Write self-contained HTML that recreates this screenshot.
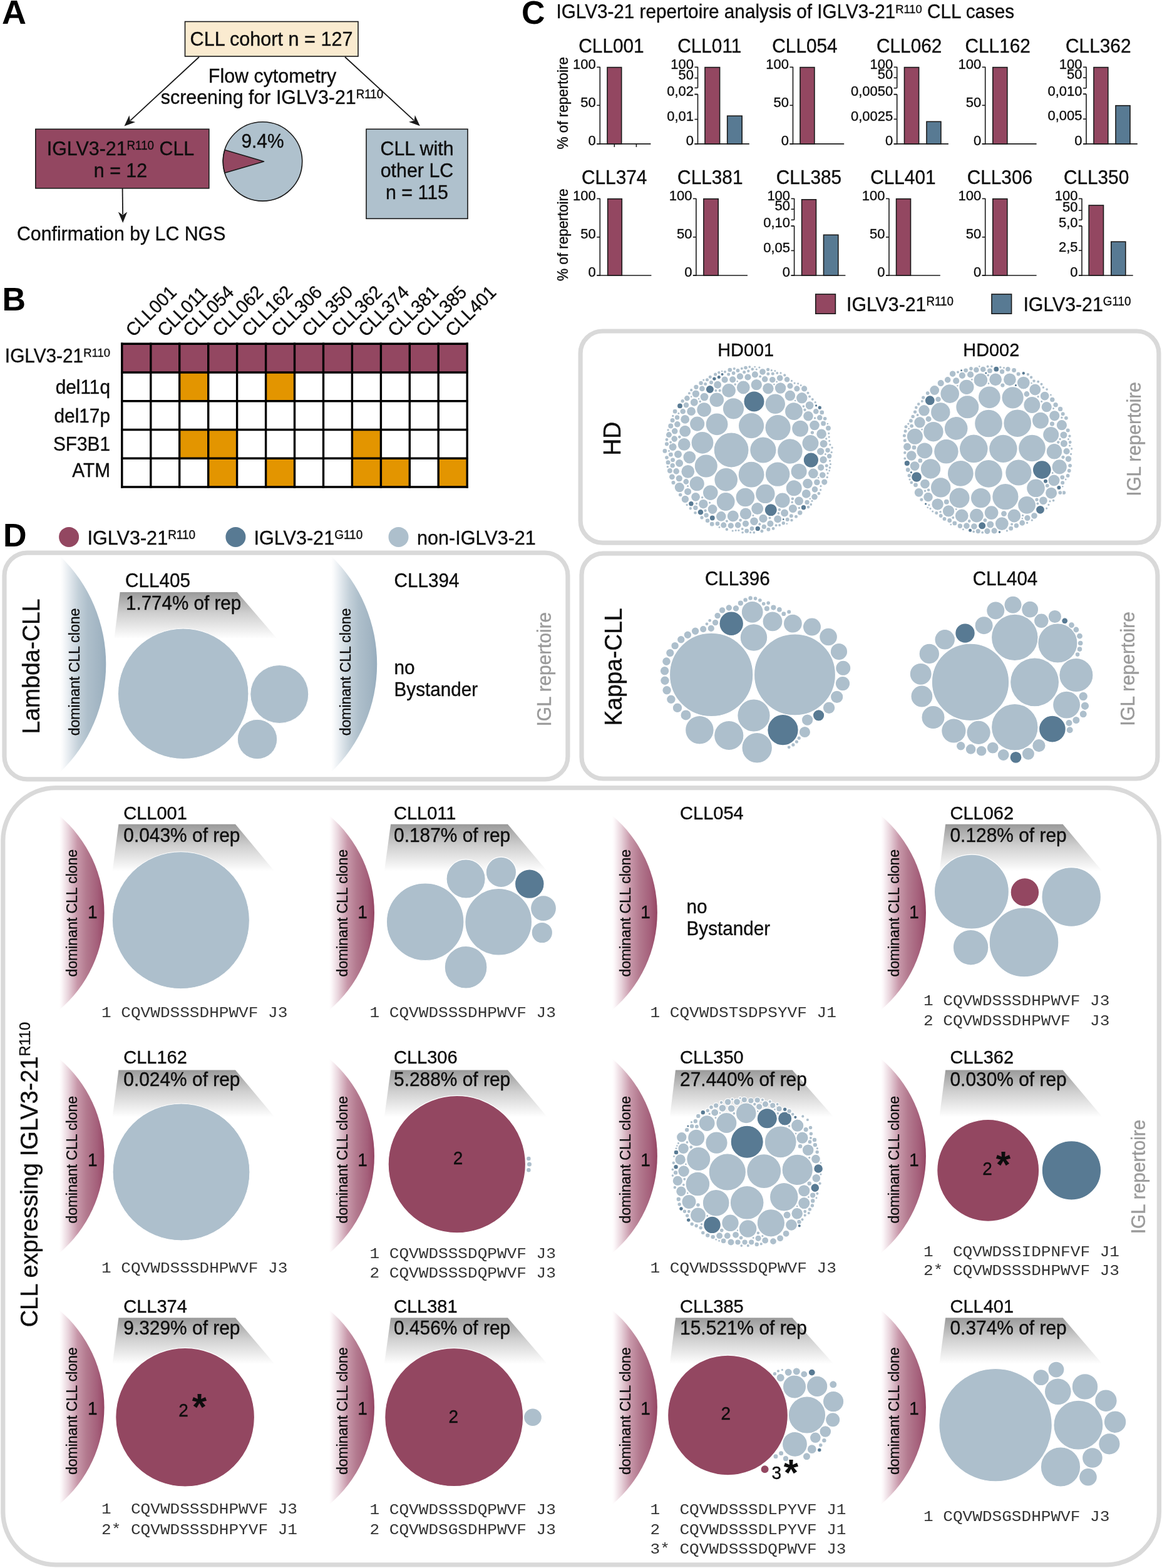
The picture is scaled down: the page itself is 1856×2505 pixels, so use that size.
<!DOCTYPE html><html><head><meta charset="utf-8"><title>IGLV3-21 figure</title>
<style>html,body{margin:0;padding:0;background:#fff}svg{display:block}text{font-family:"Liberation Sans",Arial,Helvetica,sans-serif;fill:#0d0d0d;stroke:#0d0d0d;stroke-width:0.35px}.mono{font-family:"Liberation Mono","Courier New",monospace}</style></head><body>
<svg width="1856" height="2505" viewBox="0 0 1856 2505">
<defs>
<linearGradient id="gp" x1="0" y1="0" x2="1" y2="0"><stop offset="0" stop-color="#ffffff"/><stop offset="0.05" stop-color="#fcf7f9"/><stop offset="0.2" stop-color="#e8d3db"/><stop offset="0.4" stop-color="#c898aa"/><stop offset="0.6" stop-color="#b37a8f"/><stop offset="0.85" stop-color="#a45f7a"/><stop offset="0.96" stop-color="#9a4d6a"/><stop offset="1" stop-color="#8e3e5d"/></linearGradient>
<linearGradient id="gb" x1="0" y1="0" x2="1" y2="0"><stop offset="0" stop-color="#ffffff"/><stop offset="0.05" stop-color="#fafbfc"/><stop offset="0.2" stop-color="#e3e9ee"/><stop offset="0.4" stop-color="#c3d0d9"/><stop offset="0.6" stop-color="#aebfcb"/><stop offset="0.85" stop-color="#a2b5c3"/><stop offset="1" stop-color="#97adbe"/></linearGradient>
<linearGradient id="gt" x1="0" y1="0" x2="0" y2="1"><stop offset="0" stop-color="#9a9a9a"/><stop offset="0.45" stop-color="#cfcfcf"/><stop offset="1" stop-color="#ffffff"/></linearGradient>
</defs>
<rect x="0" y="0" width="1856" height="2505" fill="#ffffff"/>
<text x="3" y="37.8" font-size="54" font-weight="bold" style="fill:#000;stroke:#000;stroke:none">A</text>
<rect x="295.5" y="34.5" width="276.5" height="55.5" fill="#faebd0" stroke="#1a1a1a" stroke-width="1.6"/>
<text x="433.5" y="73.2" font-size="30.6" text-anchor="middle" transform="translate(433.5 73.2) scale(1 1.04) translate(-433.5 -73.2)">CLL cohort n = 127</text>
<line x1="318" y1="91" x2="208.4" y2="192.3" stroke="#1a1a1a" stroke-width="1.8"/>
<polygon points="198.5,201.5 206.5,184.3 207.8,192.9 216.2,194.9" fill="#1a1a1a"/>
<line x1="551" y1="91" x2="660.9" y2="192.2" stroke="#1a1a1a" stroke-width="1.8"/>
<polygon points="670.8,201.3 653,194.7 661.5,192.8 662.8,184.1" fill="#1a1a1a"/>
<text x="435" y="131.7" font-size="30.4" text-anchor="middle" transform="translate(435 131.7) scale(1 1.04) translate(-435 -131.7)">Flow cytometry</text>
<text x="256.8" y="166.5" font-size="30.4" transform="translate(256.8 166.5) scale(1 1.04) translate(-256.8 -166.5)">screening for IGLV3-21<tspan font-size="18.8" dy="-8.8">R110</tspan></text>
<rect x="56.8" y="206.3" width="277" height="94.5" fill="#934761" stroke="#1a1a1a" stroke-width="1.6"/>
<text x="192.5" y="248" font-size="30.4" text-anchor="middle" transform="translate(192.5 248) scale(1 1.04) translate(-192.5 -248)">IGLV3-21<tspan font-size="18.8" dy="-8.8">R110</tspan><tspan dy="8.8"> CLL</tspan></text>
<text x="192.5" y="283" font-size="30.4" text-anchor="middle" transform="translate(192.5 283) scale(1 1.04) translate(-192.5 -283)">n = 12</text>
<line x1="195.6" y1="301" x2="196.1" y2="342.5" stroke="#1a1a1a" stroke-width="1.8"/>
<polygon points="196.2,356 188.8,338.6 196.1,343.4 203.2,338.4" fill="#1a1a1a"/>
<text x="27" y="384" font-size="30.3" transform="translate(27 384) scale(1 1.04) translate(-27 -384)">Confirmation by LC NGS</text>
<circle cx="419.5" cy="257.9" r="63.2" fill="#afc1cd" stroke="#1a1a1a" stroke-width="1.6"/>
<path d="M421.5,257.9 L359,239.5 A63.2,63.2 0 0 0 359,276.3 Z" fill="#934761" stroke="#1a1a1a" stroke-width="1.6" stroke-linejoin="round"/>
<text x="419.5" y="236" font-size="29.9" text-anchor="middle" transform="translate(419.5 236) scale(1 1.04) translate(-419.5 -236)">9.4%</text>
<rect x="585" y="206.3" width="162" height="143" fill="#afc1cd" stroke="#1a1a1a" stroke-width="1.6"/>
<text x="666" y="248" font-size="30.4" text-anchor="middle" transform="translate(666 248) scale(1 1.04) translate(-666 -248)">CLL with</text>
<text x="666" y="283" font-size="30.4" text-anchor="middle" transform="translate(666 283) scale(1 1.04) translate(-666 -283)">other LC</text>
<text x="666" y="318.4" font-size="30.4" text-anchor="middle" transform="translate(666 318.4) scale(1 1.04) translate(-666 -318.4)">n = 115</text>
<text x="3.5" y="496" font-size="52" font-weight="bold" style="fill:#000;stroke:#000;stroke:none">B</text>
<rect x="194.8" y="549.2" width="46" height="45.8" fill="#934761"/>
<rect x="240.8" y="549.2" width="46" height="45.8" fill="#934761"/>
<rect x="286.7" y="549.2" width="46" height="45.8" fill="#934761"/>
<rect x="332.7" y="549.2" width="46" height="45.8" fill="#934761"/>
<rect x="378.6" y="549.2" width="46" height="45.8" fill="#934761"/>
<rect x="424.6" y="549.2" width="46" height="45.8" fill="#934761"/>
<rect x="470.5" y="549.2" width="46" height="45.8" fill="#934761"/>
<rect x="516.5" y="549.2" width="46" height="45.8" fill="#934761"/>
<rect x="562.4" y="549.2" width="46" height="45.8" fill="#934761"/>
<rect x="608.4" y="549.2" width="46" height="45.8" fill="#934761"/>
<rect x="654.3" y="549.2" width="46" height="45.8" fill="#934761"/>
<rect x="700.2" y="549.2" width="46" height="45.8" fill="#934761"/>
<rect x="194.8" y="595" width="46" height="45.8" fill="#ffffff"/>
<rect x="240.8" y="595" width="46" height="45.8" fill="#ffffff"/>
<rect x="286.7" y="595" width="46" height="45.8" fill="#e39500"/>
<rect x="332.7" y="595" width="46" height="45.8" fill="#ffffff"/>
<rect x="378.6" y="595" width="46" height="45.8" fill="#ffffff"/>
<rect x="424.6" y="595" width="46" height="45.8" fill="#e39500"/>
<rect x="470.5" y="595" width="46" height="45.8" fill="#ffffff"/>
<rect x="516.5" y="595" width="46" height="45.8" fill="#ffffff"/>
<rect x="562.4" y="595" width="46" height="45.8" fill="#ffffff"/>
<rect x="608.4" y="595" width="46" height="45.8" fill="#ffffff"/>
<rect x="654.3" y="595" width="46" height="45.8" fill="#ffffff"/>
<rect x="700.2" y="595" width="46" height="45.8" fill="#ffffff"/>
<rect x="194.8" y="640.7" width="46" height="45.8" fill="#ffffff"/>
<rect x="240.8" y="640.7" width="46" height="45.8" fill="#ffffff"/>
<rect x="286.7" y="640.7" width="46" height="45.8" fill="#ffffff"/>
<rect x="332.7" y="640.7" width="46" height="45.8" fill="#ffffff"/>
<rect x="378.6" y="640.7" width="46" height="45.8" fill="#ffffff"/>
<rect x="424.6" y="640.7" width="46" height="45.8" fill="#ffffff"/>
<rect x="470.5" y="640.7" width="46" height="45.8" fill="#ffffff"/>
<rect x="516.5" y="640.7" width="46" height="45.8" fill="#ffffff"/>
<rect x="562.4" y="640.7" width="46" height="45.8" fill="#ffffff"/>
<rect x="608.4" y="640.7" width="46" height="45.8" fill="#ffffff"/>
<rect x="654.3" y="640.7" width="46" height="45.8" fill="#ffffff"/>
<rect x="700.2" y="640.7" width="46" height="45.8" fill="#ffffff"/>
<rect x="194.8" y="686.5" width="46" height="45.8" fill="#ffffff"/>
<rect x="240.8" y="686.5" width="46" height="45.8" fill="#ffffff"/>
<rect x="286.7" y="686.5" width="46" height="45.8" fill="#e39500"/>
<rect x="332.7" y="686.5" width="46" height="45.8" fill="#e39500"/>
<rect x="378.6" y="686.5" width="46" height="45.8" fill="#ffffff"/>
<rect x="424.6" y="686.5" width="46" height="45.8" fill="#ffffff"/>
<rect x="470.5" y="686.5" width="46" height="45.8" fill="#ffffff"/>
<rect x="516.5" y="686.5" width="46" height="45.8" fill="#ffffff"/>
<rect x="562.4" y="686.5" width="46" height="45.8" fill="#e39500"/>
<rect x="608.4" y="686.5" width="46" height="45.8" fill="#ffffff"/>
<rect x="654.3" y="686.5" width="46" height="45.8" fill="#ffffff"/>
<rect x="700.2" y="686.5" width="46" height="45.8" fill="#ffffff"/>
<rect x="194.8" y="732.2" width="46" height="45.8" fill="#ffffff"/>
<rect x="240.8" y="732.2" width="46" height="45.8" fill="#ffffff"/>
<rect x="286.7" y="732.2" width="46" height="45.8" fill="#ffffff"/>
<rect x="332.7" y="732.2" width="46" height="45.8" fill="#e39500"/>
<rect x="378.6" y="732.2" width="46" height="45.8" fill="#ffffff"/>
<rect x="424.6" y="732.2" width="46" height="45.8" fill="#e39500"/>
<rect x="470.5" y="732.2" width="46" height="45.8" fill="#ffffff"/>
<rect x="516.5" y="732.2" width="46" height="45.8" fill="#ffffff"/>
<rect x="562.4" y="732.2" width="46" height="45.8" fill="#e39500"/>
<rect x="608.4" y="732.2" width="46" height="45.8" fill="#e39500"/>
<rect x="654.3" y="732.2" width="46" height="45.8" fill="#ffffff"/>
<rect x="700.2" y="732.2" width="46" height="45.8" fill="#e39500"/>
<line x1="194.8" y1="547.5" x2="194.8" y2="779.7" stroke="#000" stroke-width="3.4"/>
<line x1="240.8" y1="547.5" x2="240.8" y2="779.7" stroke="#000" stroke-width="3.4"/>
<line x1="286.7" y1="547.5" x2="286.7" y2="779.7" stroke="#000" stroke-width="3.4"/>
<line x1="332.7" y1="547.5" x2="332.7" y2="779.7" stroke="#000" stroke-width="3.4"/>
<line x1="378.6" y1="547.5" x2="378.6" y2="779.7" stroke="#000" stroke-width="3.4"/>
<line x1="424.6" y1="547.5" x2="424.6" y2="779.7" stroke="#000" stroke-width="3.4"/>
<line x1="470.5" y1="547.5" x2="470.5" y2="779.7" stroke="#000" stroke-width="3.4"/>
<line x1="516.5" y1="547.5" x2="516.5" y2="779.7" stroke="#000" stroke-width="3.4"/>
<line x1="562.4" y1="547.5" x2="562.4" y2="779.7" stroke="#000" stroke-width="3.4"/>
<line x1="608.4" y1="547.5" x2="608.4" y2="779.7" stroke="#000" stroke-width="3.4"/>
<line x1="654.3" y1="547.5" x2="654.3" y2="779.7" stroke="#000" stroke-width="3.4"/>
<line x1="700.2" y1="547.5" x2="700.2" y2="779.7" stroke="#000" stroke-width="3.4"/>
<line x1="746.2" y1="547.5" x2="746.2" y2="779.7" stroke="#000" stroke-width="3.4"/>
<line x1="193.1" y1="549.2" x2="747.9" y2="549.2" stroke="#000" stroke-width="3.4"/>
<line x1="193.1" y1="595" x2="747.9" y2="595" stroke="#000" stroke-width="3.4"/>
<line x1="193.1" y1="640.7" x2="747.9" y2="640.7" stroke="#000" stroke-width="3.4"/>
<line x1="193.1" y1="686.5" x2="747.9" y2="686.5" stroke="#000" stroke-width="3.4"/>
<line x1="193.1" y1="732.2" x2="747.9" y2="732.2" stroke="#000" stroke-width="3.4"/>
<line x1="193.1" y1="778" x2="747.9" y2="778" stroke="#000" stroke-width="3.4"/>
<text x="176" y="579.2" font-size="29.8" text-anchor="end" transform="translate(176 579.2) scale(1 1.04) translate(-176 -579.2)">IGLV3-21<tspan font-size="18.5" dy="-8.6">R110</tspan></text>
<text x="176" y="629" font-size="29.8" text-anchor="end" transform="translate(176 629) scale(1 1.04) translate(-176 -629)">del11q</text>
<text x="176" y="675" font-size="29.8" text-anchor="end" transform="translate(176 675) scale(1 1.04) translate(-176 -675)">del17p</text>
<text x="176" y="719.7" font-size="29.8" text-anchor="end" transform="translate(176 719.7) scale(1 1.04) translate(-176 -719.7)">SF3B1</text>
<text x="176" y="762" font-size="29.8" text-anchor="end" transform="translate(176 762) scale(1 1.04) translate(-176 -762)">ATM</text>
<text x="212.9" y="539.6" font-size="28.6" transform="rotate(-45 212.9 539.6) translate(212.9 539.6) scale(1 1.04) translate(-212.9 -539.6)">CLL001</text>
<text x="263.5" y="539.6" font-size="28.6" transform="rotate(-45 263.5 539.6) translate(263.5 539.6) scale(1 1.04) translate(-263.5 -539.6)">CLL011</text>
<text x="304.5" y="539.6" font-size="28.6" transform="rotate(-45 304.5 539.6) translate(304.5 539.6) scale(1 1.04) translate(-304.5 -539.6)">CLL054</text>
<text x="351.5" y="539.6" font-size="28.6" transform="rotate(-45 351.5 539.6) translate(351.5 539.6) scale(1 1.04) translate(-351.5 -539.6)">CLL062</text>
<text x="398.5" y="539.6" font-size="28.6" transform="rotate(-45 398.5 539.6) translate(398.5 539.6) scale(1 1.04) translate(-398.5 -539.6)">CLL162</text>
<text x="445.5" y="539.6" font-size="28.6" transform="rotate(-45 445.5 539.6) translate(445.5 539.6) scale(1 1.04) translate(-445.5 -539.6)">CLL306</text>
<text x="494.5" y="539.6" font-size="28.6" transform="rotate(-45 494.5 539.6) translate(494.5 539.6) scale(1 1.04) translate(-494.5 -539.6)">CLL350</text>
<text x="541.5" y="539.6" font-size="28.6" transform="rotate(-45 541.5 539.6) translate(541.5 539.6) scale(1 1.04) translate(-541.5 -539.6)">CLL362</text>
<text x="584.5" y="539.6" font-size="28.6" transform="rotate(-45 584.5 539.6) translate(584.5 539.6) scale(1 1.04) translate(-584.5 -539.6)">CLL374</text>
<text x="631.5" y="539.6" font-size="28.6" transform="rotate(-45 631.5 539.6) translate(631.5 539.6) scale(1 1.04) translate(-631.5 -539.6)">CLL381</text>
<text x="676.5" y="539.6" font-size="28.6" transform="rotate(-45 676.5 539.6) translate(676.5 539.6) scale(1 1.04) translate(-676.5 -539.6)">CLL385</text>
<text x="723.5" y="539.6" font-size="28.6" transform="rotate(-45 723.5 539.6) translate(723.5 539.6) scale(1 1.04) translate(-723.5 -539.6)">CLL401</text>
<text x="833" y="37.8" font-size="52" font-weight="bold" style="fill:#000;stroke:#000;stroke:none">C</text>
<text x="888.5" y="29.5" font-size="29.7" transform="translate(888.5 29.5) scale(1 1.04) translate(-888.5 -29.5)">IGLV3-21 repertoire analysis of IGLV3-21<tspan font-size="18.4" dy="-8.6">R110</tspan><tspan dy="8.6"> CLL cases</tspan></text>
<text x="976.5" y="83.9" font-size="29.8" text-anchor="middle" transform="translate(976.5 83.9) scale(1 1.04) translate(-976.5 -83.9)">CLL001</text>
<line x1="958.3" y1="106.8" x2="958.3" y2="230.7" stroke="#1a1a1a" stroke-width="1.6"/>
<line x1="953.3" y1="229.9" x2="1039.4" y2="229.9" stroke="#1a1a1a" stroke-width="1.6"/>
<line x1="953.3" y1="107.3" x2="958.3" y2="107.3" stroke="#1a1a1a" stroke-width="1.6"/>
<text x="951.8" y="109.6" font-size="22" text-anchor="end" transform="translate(951.8 109.6) scale(1 1.04) translate(-951.8 -109.6)">100</text>
<line x1="953.3" y1="168.3" x2="958.3" y2="168.3" stroke="#1a1a1a" stroke-width="1.6"/>
<text x="951.8" y="170.6" font-size="22" text-anchor="end" transform="translate(951.8 170.6) scale(1 1.04) translate(-951.8 -170.6)">50</text>
<line x1="953.3" y1="229.9" x2="958.3" y2="229.9" stroke="#1a1a1a" stroke-width="1.6"/>
<text x="951.8" y="232.2" font-size="22" text-anchor="end" transform="translate(951.8 232.2) scale(1 1.04) translate(-951.8 -232.2)">0</text>
<rect x="970" y="107.6" width="22.7" height="122.3" fill="#934761" stroke="#1a1a1a" stroke-width="1.6"/>
<line x1="981.3" y1="229.9" x2="981.3" y2="234.9" stroke="#1a1a1a" stroke-width="1.6"/>
<line x1="1016.4" y1="229.9" x2="1016.4" y2="234.9" stroke="#1a1a1a" stroke-width="1.6"/>
<text x="1133.3" y="83.9" font-size="29.8" text-anchor="middle" transform="translate(1133.3 83.9) scale(1 1.04) translate(-1133.3 -83.9)">CLL011</text>
<line x1="1114.5" y1="106.8" x2="1114.5" y2="140.4" stroke="#1a1a1a" stroke-width="1.6"/>
<line x1="1114.5" y1="150.6" x2="1114.5" y2="230.7" stroke="#1a1a1a" stroke-width="1.6"/>
<line x1="1109.5" y1="140.4" x2="1114.5" y2="140.4" stroke="#1a1a1a" stroke-width="1.6"/>
<line x1="1109.5" y1="150.6" x2="1114.5" y2="150.6" stroke="#1a1a1a" stroke-width="1.6"/>
<line x1="1109.5" y1="229.9" x2="1196.8" y2="229.9" stroke="#1a1a1a" stroke-width="1.6"/>
<line x1="1109.5" y1="107.3" x2="1114.5" y2="107.3" stroke="#1a1a1a" stroke-width="1.6"/>
<text x="1108" y="109.6" font-size="22" text-anchor="end" transform="translate(1108 109.6) scale(1 1.04) translate(-1108 -109.6)">100</text>
<line x1="1109.5" y1="124.7" x2="1114.5" y2="124.7" stroke="#1a1a1a" stroke-width="1.6"/>
<text x="1108" y="127" font-size="22" text-anchor="end" transform="translate(1108 127) scale(1 1.04) translate(-1108 -127)">50</text>
<line x1="1109.5" y1="150.6" x2="1114.5" y2="150.6" stroke="#1a1a1a" stroke-width="1.6"/>
<text x="1108" y="152.9" font-size="22" text-anchor="end" transform="translate(1108 152.9) scale(1 1.04) translate(-1108 -152.9)">0,02</text>
<line x1="1109.5" y1="190.6" x2="1114.5" y2="190.6" stroke="#1a1a1a" stroke-width="1.6"/>
<text x="1108" y="192.9" font-size="22" text-anchor="end" transform="translate(1108 192.9) scale(1 1.04) translate(-1108 -192.9)">0,01</text>
<line x1="1109.5" y1="229.9" x2="1114.5" y2="229.9" stroke="#1a1a1a" stroke-width="1.6"/>
<text x="1108" y="232.2" font-size="22" text-anchor="end" transform="translate(1108 232.2) scale(1 1.04) translate(-1108 -232.2)">0</text>
<rect x="1126" y="107.6" width="23.6" height="122.3" fill="#934761" stroke="#1a1a1a" stroke-width="1.6"/>
<rect x="1161.7" y="185.2" width="23.5" height="44.7" fill="#587a93" stroke="#1a1a1a" stroke-width="1.6"/>
<text x="1285.5" y="83.9" font-size="29.8" text-anchor="middle" transform="translate(1285.5 83.9) scale(1 1.04) translate(-1285.5 -83.9)">CLL054</text>
<line x1="1266.5" y1="106.8" x2="1266.5" y2="230.7" stroke="#1a1a1a" stroke-width="1.6"/>
<line x1="1261.5" y1="229.9" x2="1348.2" y2="229.9" stroke="#1a1a1a" stroke-width="1.6"/>
<line x1="1261.5" y1="107.3" x2="1266.5" y2="107.3" stroke="#1a1a1a" stroke-width="1.6"/>
<text x="1260" y="109.6" font-size="22" text-anchor="end" transform="translate(1260 109.6) scale(1 1.04) translate(-1260 -109.6)">100</text>
<line x1="1261.5" y1="168.3" x2="1266.5" y2="168.3" stroke="#1a1a1a" stroke-width="1.6"/>
<text x="1260" y="170.6" font-size="22" text-anchor="end" transform="translate(1260 170.6) scale(1 1.04) translate(-1260 -170.6)">50</text>
<line x1="1261.5" y1="229.9" x2="1266.5" y2="229.9" stroke="#1a1a1a" stroke-width="1.6"/>
<text x="1260" y="232.2" font-size="22" text-anchor="end" transform="translate(1260 232.2) scale(1 1.04) translate(-1260 -232.2)">0</text>
<rect x="1278" y="107.6" width="22.9" height="122.3" fill="#934761" stroke="#1a1a1a" stroke-width="1.6"/>
<text x="1452.2" y="83.9" font-size="29.8" text-anchor="middle" transform="translate(1452.2 83.9) scale(1 1.04) translate(-1452.2 -83.9)">CLL062</text>
<line x1="1432.7" y1="106.8" x2="1432.7" y2="140.7" stroke="#1a1a1a" stroke-width="1.6"/>
<line x1="1432.7" y1="150.7" x2="1432.7" y2="230.7" stroke="#1a1a1a" stroke-width="1.6"/>
<line x1="1427.7" y1="140.7" x2="1432.7" y2="140.7" stroke="#1a1a1a" stroke-width="1.6"/>
<line x1="1427.7" y1="150.7" x2="1432.7" y2="150.7" stroke="#1a1a1a" stroke-width="1.6"/>
<line x1="1427.7" y1="229.9" x2="1514.9" y2="229.9" stroke="#1a1a1a" stroke-width="1.6"/>
<line x1="1427.7" y1="107.3" x2="1432.7" y2="107.3" stroke="#1a1a1a" stroke-width="1.6"/>
<text x="1426.2" y="109.6" font-size="22" text-anchor="end" transform="translate(1426.2 109.6) scale(1 1.04) translate(-1426.2 -109.6)">100</text>
<line x1="1427.7" y1="124.2" x2="1432.7" y2="124.2" stroke="#1a1a1a" stroke-width="1.6"/>
<text x="1426.2" y="126.5" font-size="22" text-anchor="end" transform="translate(1426.2 126.5) scale(1 1.04) translate(-1426.2 -126.5)">50</text>
<line x1="1427.7" y1="150.7" x2="1432.7" y2="150.7" stroke="#1a1a1a" stroke-width="1.6"/>
<text x="1426.2" y="153" font-size="22" text-anchor="end" transform="translate(1426.2 153) scale(1 1.04) translate(-1426.2 -153)">0,0050</text>
<line x1="1427.7" y1="190.4" x2="1432.7" y2="190.4" stroke="#1a1a1a" stroke-width="1.6"/>
<text x="1426.2" y="192.7" font-size="22" text-anchor="end" transform="translate(1426.2 192.7) scale(1 1.04) translate(-1426.2 -192.7)">0,0025</text>
<line x1="1427.7" y1="229.9" x2="1432.7" y2="229.9" stroke="#1a1a1a" stroke-width="1.6"/>
<text x="1426.2" y="232.2" font-size="22" text-anchor="end" transform="translate(1426.2 232.2) scale(1 1.04) translate(-1426.2 -232.2)">0</text>
<rect x="1444.5" y="107.6" width="23.1" height="122.3" fill="#934761" stroke="#1a1a1a" stroke-width="1.6"/>
<rect x="1480" y="194.3" width="22.9" height="35.6" fill="#587a93" stroke="#1a1a1a" stroke-width="1.6"/>
<text x="1593.7" y="83.9" font-size="29.8" text-anchor="middle" transform="translate(1593.7 83.9) scale(1 1.04) translate(-1593.7 -83.9)">CLL162</text>
<line x1="1573.7" y1="106.8" x2="1573.7" y2="230.7" stroke="#1a1a1a" stroke-width="1.6"/>
<line x1="1568.7" y1="229.9" x2="1655.6" y2="229.9" stroke="#1a1a1a" stroke-width="1.6"/>
<line x1="1568.7" y1="107.3" x2="1573.7" y2="107.3" stroke="#1a1a1a" stroke-width="1.6"/>
<text x="1567.2" y="109.6" font-size="22" text-anchor="end" transform="translate(1567.2 109.6) scale(1 1.04) translate(-1567.2 -109.6)">100</text>
<line x1="1568.7" y1="168.3" x2="1573.7" y2="168.3" stroke="#1a1a1a" stroke-width="1.6"/>
<text x="1567.2" y="170.6" font-size="22" text-anchor="end" transform="translate(1567.2 170.6) scale(1 1.04) translate(-1567.2 -170.6)">50</text>
<line x1="1568.7" y1="229.9" x2="1573.7" y2="229.9" stroke="#1a1a1a" stroke-width="1.6"/>
<text x="1567.2" y="232.2" font-size="22" text-anchor="end" transform="translate(1567.2 232.2) scale(1 1.04) translate(-1567.2 -232.2)">0</text>
<rect x="1585.8" y="107.6" width="23" height="122.3" fill="#934761" stroke="#1a1a1a" stroke-width="1.6"/>
<text x="1754.3" y="83.9" font-size="29.8" text-anchor="middle" transform="translate(1754.3 83.9) scale(1 1.04) translate(-1754.3 -83.9)">CLL362</text>
<line x1="1735" y1="106.8" x2="1735" y2="140.9" stroke="#1a1a1a" stroke-width="1.6"/>
<line x1="1735" y1="150.3" x2="1735" y2="230.7" stroke="#1a1a1a" stroke-width="1.6"/>
<line x1="1730" y1="140.9" x2="1735" y2="140.9" stroke="#1a1a1a" stroke-width="1.6"/>
<line x1="1730" y1="150.3" x2="1735" y2="150.3" stroke="#1a1a1a" stroke-width="1.6"/>
<line x1="1730" y1="229.9" x2="1816.8" y2="229.9" stroke="#1a1a1a" stroke-width="1.6"/>
<line x1="1730" y1="107.3" x2="1735" y2="107.3" stroke="#1a1a1a" stroke-width="1.6"/>
<text x="1728.5" y="109.6" font-size="22" text-anchor="end" transform="translate(1728.5 109.6) scale(1 1.04) translate(-1728.5 -109.6)">100</text>
<line x1="1730" y1="124.2" x2="1735" y2="124.2" stroke="#1a1a1a" stroke-width="1.6"/>
<text x="1728.5" y="126.5" font-size="22" text-anchor="end" transform="translate(1728.5 126.5) scale(1 1.04) translate(-1728.5 -126.5)">50</text>
<line x1="1730" y1="150.3" x2="1735" y2="150.3" stroke="#1a1a1a" stroke-width="1.6"/>
<text x="1728.5" y="152.6" font-size="22" text-anchor="end" transform="translate(1728.5 152.6) scale(1 1.04) translate(-1728.5 -152.6)">0,010</text>
<line x1="1730" y1="190.2" x2="1735" y2="190.2" stroke="#1a1a1a" stroke-width="1.6"/>
<text x="1728.5" y="192.5" font-size="22" text-anchor="end" transform="translate(1728.5 192.5) scale(1 1.04) translate(-1728.5 -192.5)">0,005</text>
<line x1="1730" y1="229.9" x2="1735" y2="229.9" stroke="#1a1a1a" stroke-width="1.6"/>
<text x="1728.5" y="232.2" font-size="22" text-anchor="end" transform="translate(1728.5 232.2) scale(1 1.04) translate(-1728.5 -232.2)">0</text>
<rect x="1747" y="107.6" width="22.8" height="122.3" fill="#934761" stroke="#1a1a1a" stroke-width="1.6"/>
<rect x="1782" y="168.7" width="23" height="61.2" fill="#587a93" stroke="#1a1a1a" stroke-width="1.6"/>
<text x="981.2" y="294" font-size="29.8" text-anchor="middle" transform="translate(981.2 294) scale(1 1.04) translate(-981.2 -294)">CLL374</text>
<line x1="958.3" y1="316.9" x2="958.3" y2="440.8" stroke="#1a1a1a" stroke-width="1.6"/>
<line x1="953.3" y1="440" x2="1040.4" y2="440" stroke="#1a1a1a" stroke-width="1.6"/>
<line x1="953.3" y1="317.4" x2="958.3" y2="317.4" stroke="#1a1a1a" stroke-width="1.6"/>
<text x="951.8" y="319.7" font-size="22" text-anchor="end" transform="translate(951.8 319.7) scale(1 1.04) translate(-951.8 -319.7)">100</text>
<line x1="953.3" y1="378.8" x2="958.3" y2="378.8" stroke="#1a1a1a" stroke-width="1.6"/>
<text x="951.8" y="381.1" font-size="22" text-anchor="end" transform="translate(951.8 381.1) scale(1 1.04) translate(-951.8 -381.1)">50</text>
<line x1="953.3" y1="440" x2="958.3" y2="440" stroke="#1a1a1a" stroke-width="1.6"/>
<text x="951.8" y="442.3" font-size="22" text-anchor="end" transform="translate(951.8 442.3) scale(1 1.04) translate(-951.8 -442.3)">0</text>
<rect x="970.7" y="317.7" width="22.6" height="122.3" fill="#934761" stroke="#1a1a1a" stroke-width="1.6"/>
<text x="1134.3" y="294" font-size="29.8" text-anchor="middle" transform="translate(1134.3 294) scale(1 1.04) translate(-1134.3 -294)">CLL381</text>
<line x1="1111.9" y1="316.9" x2="1111.9" y2="440.8" stroke="#1a1a1a" stroke-width="1.6"/>
<line x1="1106.9" y1="440" x2="1194" y2="440" stroke="#1a1a1a" stroke-width="1.6"/>
<line x1="1106.9" y1="317.4" x2="1111.9" y2="317.4" stroke="#1a1a1a" stroke-width="1.6"/>
<text x="1105.4" y="319.7" font-size="22" text-anchor="end" transform="translate(1105.4 319.7) scale(1 1.04) translate(-1105.4 -319.7)">100</text>
<line x1="1106.9" y1="378.8" x2="1111.9" y2="378.8" stroke="#1a1a1a" stroke-width="1.6"/>
<text x="1105.4" y="381.1" font-size="22" text-anchor="end" transform="translate(1105.4 381.1) scale(1 1.04) translate(-1105.4 -381.1)">50</text>
<line x1="1106.9" y1="440" x2="1111.9" y2="440" stroke="#1a1a1a" stroke-width="1.6"/>
<text x="1105.4" y="442.3" font-size="22" text-anchor="end" transform="translate(1105.4 442.3) scale(1 1.04) translate(-1105.4 -442.3)">0</text>
<rect x="1123.9" y="317.7" width="23.3" height="122.3" fill="#934761" stroke="#1a1a1a" stroke-width="1.6"/>
<text x="1292" y="294" font-size="29.8" text-anchor="middle" transform="translate(1292 294) scale(1 1.04) translate(-1292 -294)">CLL385</text>
<line x1="1268.6" y1="316.9" x2="1268.6" y2="351.3" stroke="#1a1a1a" stroke-width="1.6"/>
<line x1="1268.6" y1="361.1" x2="1268.6" y2="440.8" stroke="#1a1a1a" stroke-width="1.6"/>
<line x1="1263.6" y1="351.3" x2="1268.6" y2="351.3" stroke="#1a1a1a" stroke-width="1.6"/>
<line x1="1263.6" y1="361.1" x2="1268.6" y2="361.1" stroke="#1a1a1a" stroke-width="1.6"/>
<line x1="1263.6" y1="440" x2="1350.4" y2="440" stroke="#1a1a1a" stroke-width="1.6"/>
<line x1="1263.6" y1="317.4" x2="1268.6" y2="317.4" stroke="#1a1a1a" stroke-width="1.6"/>
<text x="1262.1" y="319.7" font-size="22" text-anchor="end" transform="translate(1262.1 319.7) scale(1 1.04) translate(-1262.1 -319.7)">100</text>
<line x1="1263.6" y1="334.2" x2="1268.6" y2="334.2" stroke="#1a1a1a" stroke-width="1.6"/>
<text x="1262.1" y="336.5" font-size="22" text-anchor="end" transform="translate(1262.1 336.5) scale(1 1.04) translate(-1262.1 -336.5)">50</text>
<line x1="1263.6" y1="361.1" x2="1268.6" y2="361.1" stroke="#1a1a1a" stroke-width="1.6"/>
<text x="1262.1" y="363.4" font-size="22" text-anchor="end" transform="translate(1262.1 363.4) scale(1 1.04) translate(-1262.1 -363.4)">0,10</text>
<line x1="1263.6" y1="400.4" x2="1268.6" y2="400.4" stroke="#1a1a1a" stroke-width="1.6"/>
<text x="1262.1" y="402.7" font-size="22" text-anchor="end" transform="translate(1262.1 402.7) scale(1 1.04) translate(-1262.1 -402.7)">0,05</text>
<line x1="1263.6" y1="440" x2="1268.6" y2="440" stroke="#1a1a1a" stroke-width="1.6"/>
<text x="1262.1" y="442.3" font-size="22" text-anchor="end" transform="translate(1262.1 442.3) scale(1 1.04) translate(-1262.1 -442.3)">0</text>
<rect x="1280.6" y="318.8" width="22.9" height="121.2" fill="#934761" stroke="#1a1a1a" stroke-width="1.6"/>
<rect x="1315.5" y="375.3" width="23.3" height="64.7" fill="#587a93" stroke="#1a1a1a" stroke-width="1.6"/>
<text x="1442.4" y="294" font-size="29.8" text-anchor="middle" transform="translate(1442.4 294) scale(1 1.04) translate(-1442.4 -294)">CLL401</text>
<line x1="1420" y1="316.9" x2="1420" y2="440.8" stroke="#1a1a1a" stroke-width="1.6"/>
<line x1="1415" y1="440" x2="1501.8" y2="440" stroke="#1a1a1a" stroke-width="1.6"/>
<line x1="1415" y1="317.4" x2="1420" y2="317.4" stroke="#1a1a1a" stroke-width="1.6"/>
<text x="1413.5" y="319.7" font-size="22" text-anchor="end" transform="translate(1413.5 319.7) scale(1 1.04) translate(-1413.5 -319.7)">100</text>
<line x1="1415" y1="378.8" x2="1420" y2="378.8" stroke="#1a1a1a" stroke-width="1.6"/>
<text x="1413.5" y="381.1" font-size="22" text-anchor="end" transform="translate(1413.5 381.1) scale(1 1.04) translate(-1413.5 -381.1)">50</text>
<line x1="1415" y1="440" x2="1420" y2="440" stroke="#1a1a1a" stroke-width="1.6"/>
<text x="1413.5" y="442.3" font-size="22" text-anchor="end" transform="translate(1413.5 442.3) scale(1 1.04) translate(-1413.5 -442.3)">0</text>
<rect x="1431.6" y="317.7" width="22.9" height="122.3" fill="#934761" stroke="#1a1a1a" stroke-width="1.6"/>
<text x="1596.9" y="294" font-size="29.8" text-anchor="middle" transform="translate(1596.9 294) scale(1 1.04) translate(-1596.9 -294)">CLL306</text>
<line x1="1573.7" y1="316.9" x2="1573.7" y2="440.8" stroke="#1a1a1a" stroke-width="1.6"/>
<line x1="1568.7" y1="440" x2="1655.6" y2="440" stroke="#1a1a1a" stroke-width="1.6"/>
<line x1="1568.7" y1="317.4" x2="1573.7" y2="317.4" stroke="#1a1a1a" stroke-width="1.6"/>
<text x="1567.2" y="319.7" font-size="22" text-anchor="end" transform="translate(1567.2 319.7) scale(1 1.04) translate(-1567.2 -319.7)">100</text>
<line x1="1568.7" y1="378.8" x2="1573.7" y2="378.8" stroke="#1a1a1a" stroke-width="1.6"/>
<text x="1567.2" y="381.1" font-size="22" text-anchor="end" transform="translate(1567.2 381.1) scale(1 1.04) translate(-1567.2 -381.1)">50</text>
<line x1="1568.7" y1="440" x2="1573.7" y2="440" stroke="#1a1a1a" stroke-width="1.6"/>
<text x="1567.2" y="442.3" font-size="22" text-anchor="end" transform="translate(1567.2 442.3) scale(1 1.04) translate(-1567.2 -442.3)">0</text>
<rect x="1585.8" y="317.7" width="23" height="122.3" fill="#934761" stroke="#1a1a1a" stroke-width="1.6"/>
<text x="1751.1" y="294" font-size="29.8" text-anchor="middle" transform="translate(1751.1 294) scale(1 1.04) translate(-1751.1 -294)">CLL350</text>
<line x1="1728" y1="316.9" x2="1728" y2="351.3" stroke="#1a1a1a" stroke-width="1.6"/>
<line x1="1728" y1="361" x2="1728" y2="440.8" stroke="#1a1a1a" stroke-width="1.6"/>
<line x1="1723" y1="351.3" x2="1728" y2="351.3" stroke="#1a1a1a" stroke-width="1.6"/>
<line x1="1723" y1="361" x2="1728" y2="361" stroke="#1a1a1a" stroke-width="1.6"/>
<line x1="1723" y1="440" x2="1809.7" y2="440" stroke="#1a1a1a" stroke-width="1.6"/>
<line x1="1723" y1="317.4" x2="1728" y2="317.4" stroke="#1a1a1a" stroke-width="1.6"/>
<text x="1721.5" y="319.7" font-size="22" text-anchor="end" transform="translate(1721.5 319.7) scale(1 1.04) translate(-1721.5 -319.7)">100</text>
<line x1="1723" y1="336.2" x2="1728" y2="336.2" stroke="#1a1a1a" stroke-width="1.6"/>
<text x="1721.5" y="338.5" font-size="22" text-anchor="end" transform="translate(1721.5 338.5) scale(1 1.04) translate(-1721.5 -338.5)">50</text>
<line x1="1723" y1="361" x2="1728" y2="361" stroke="#1a1a1a" stroke-width="1.6"/>
<text x="1721.5" y="363.3" font-size="22" text-anchor="end" transform="translate(1721.5 363.3) scale(1 1.04) translate(-1721.5 -363.3)">5,0</text>
<line x1="1723" y1="400.2" x2="1728" y2="400.2" stroke="#1a1a1a" stroke-width="1.6"/>
<text x="1721.5" y="402.5" font-size="22" text-anchor="end" transform="translate(1721.5 402.5) scale(1 1.04) translate(-1721.5 -402.5)">2,5</text>
<line x1="1723" y1="440" x2="1728" y2="440" stroke="#1a1a1a" stroke-width="1.6"/>
<text x="1721.5" y="442.3" font-size="22" text-anchor="end" transform="translate(1721.5 442.3) scale(1 1.04) translate(-1721.5 -442.3)">0</text>
<rect x="1739.2" y="328" width="23.3" height="112" fill="#934761" stroke="#1a1a1a" stroke-width="1.6"/>
<rect x="1774.8" y="386.2" width="23" height="53.8" fill="#587a93" stroke="#1a1a1a" stroke-width="1.6"/>
<text x="907.5" y="164.7" font-size="22.5" text-anchor="middle" transform="rotate(-90 907.5 164.7) translate(907.5 164.7) scale(1 1.04) translate(-907.5 -164.7)">% of repertoire</text>
<text x="907" y="375.3" font-size="22.5" text-anchor="middle" transform="rotate(-90 907 375.3) translate(907 375.3) scale(1 1.04) translate(-907 -375.3)">% of repertoire</text>
<rect x="1302.8" y="470" width="31.6" height="31.2" fill="#934761" stroke="#1a1a1a" stroke-width="1.6"/>
<text x="1352" y="497" font-size="30.3" transform="translate(1352 497) scale(1 1.04) translate(-1352 -497)">IGLV3-21<tspan font-size="18.8" dy="-8.8">R110</tspan></text>
<rect x="1584" y="470" width="31.6" height="31.2" fill="#587a93" stroke="#1a1a1a" stroke-width="1.6"/>
<text x="1634.4" y="497" font-size="30.3" transform="translate(1634.4 497) scale(1 1.04) translate(-1634.4 -497)">IGLV3-21<tspan font-size="18.8" dy="-8.8">G110</tspan></text>
<text x="5.1" y="872.5" font-size="52" font-weight="bold" style="fill:#000;stroke:#000;stroke:none">D</text>
<circle cx="110.1" cy="857.9" r="16" fill="#934761"/>
<text x="139.5" y="869.8" font-size="30.6" transform="translate(139.5 869.8) scale(1 1.04) translate(-139.5 -869.8)">IGLV3-21<tspan font-size="19" dy="-8.9">R110</tspan></text>
<circle cx="376.4" cy="857.9" r="16" fill="#587a93"/>
<text x="405.5" y="869.8" font-size="30.6" transform="translate(405.5 869.8) scale(1 1.04) translate(-405.5 -869.8)">IGLV3-21<tspan font-size="19" dy="-8.9">G110</tspan></text>
<circle cx="636.5" cy="857.9" r="16" fill="#adbfcc"/>
<text x="666" y="869.8" font-size="30.6" transform="translate(666 869.8) scale(1 1.04) translate(-666 -869.8)">non-IGLV3-21</text>
<rect x="7" y="883.1" width="899.9" height="361.8" rx="36.4" fill="none" stroke="#d9d9d9" stroke-width="7.2"/>
<rect x="927.1" y="529" width="923.8" height="338.2" rx="35.4" fill="none" stroke="#d9d9d9" stroke-width="7.2"/>
<rect x="929" y="884.2" width="919.9" height="359.8" rx="34.4" fill="none" stroke="#d9d9d9" stroke-width="7.2"/>
<rect x="4.8" y="1258.6" width="1846.6" height="1241.2" rx="84.4" fill="none" stroke="#d9d9d9" stroke-width="7.2"/>
<text x="62.7" y="1064.5" font-size="37.4" text-anchor="middle" transform="rotate(-90 62.7 1064.5) translate(62.7 1064.5) scale(1 1.04) translate(-62.7 -1064.5)">Lambda-CLL</text>
<path d="M96.1,888.4 A240.2,240.2 0 0 1 96.1,1233.7 Z" fill="url(#gb)"/>
<text x="126.7" y="1073.5" font-size="23" text-anchor="middle" transform="rotate(-90 126.7 1073.5) translate(126.7 1073.5) scale(1 1.04) translate(-126.7 -1073.5)">dominant CLL clone</text>
<path d="M529,888.4 A240.2,240.2 0 0 1 529,1233.7 Z" fill="url(#gb)"/>
<text x="559.6" y="1073.5" font-size="23" text-anchor="middle" transform="rotate(-90 559.6 1073.5) translate(559.6 1073.5) scale(1 1.04) translate(-559.6 -1073.5)">dominant CLL clone</text>
<polygon points="191.6,946 378.7,946 442.8,1020.6 182.4,1020.6" fill="url(#gt)"/>
<text x="200" y="938.5" font-size="29.7" transform="translate(200 938.5) scale(1 1.04) translate(-200 -938.5)">CLL405</text>
<text x="201" y="974.1" font-size="29.6" transform="translate(201 974.1) scale(1 1.04) translate(-201 -974.1)">1.774% of rep</text>
<circle cx="292.7" cy="1108.3" r="104.2" fill="#adbfcc" stroke="#fff" stroke-width="1"/>
<circle cx="446.3" cy="1109" r="46.5" fill="#adbfcc" stroke="#fff" stroke-width="1"/>
<circle cx="411" cy="1181" r="31.7" fill="#adbfcc" stroke="#fff" stroke-width="1"/>
<text x="629.5" y="938.5" font-size="29.7" transform="translate(629.5 938.5) scale(1 1.04) translate(-629.5 -938.5)">CLL394</text>
<text x="629.5" y="1077.3" font-size="29.7" transform="translate(629.5 1077.3) scale(1 1.04) translate(-629.5 -1077.3)">no</text>
<text x="629.5" y="1112.4" font-size="29.7" transform="translate(629.5 1112.4) scale(1 1.04) translate(-629.5 -1112.4)">Bystander</text>
<text x="880" y="1069.2" font-size="29.8" text-anchor="middle" style="fill:#9a9a9a;stroke:#9a9a9a" transform="rotate(-90 880 1069.2) translate(880 1069.2) scale(1 1.04) translate(-880 -1069.2)">IGL repertoire</text>
<text x="991.5" y="700.7" font-size="37.4" text-anchor="middle" transform="rotate(-90 991.5 700.7) translate(991.5 700.7) scale(1 1.04) translate(-991.5 -700.7)">HD</text>
<text x="1191.2" y="569.3" font-size="28.9" text-anchor="middle" transform="translate(1191.2 569.3) scale(1 1.04) translate(-1191.2 -569.3)">HD001</text>
<text x="1583.3" y="569.4" font-size="28.9" text-anchor="middle" transform="translate(1583.3 569.4) scale(1 1.04) translate(-1583.3 -569.4)">HD002</text>
<text x="1822.4" y="701.5" font-size="29.8" text-anchor="middle" style="fill:#9a9a9a;stroke:#9a9a9a" transform="rotate(-90 1822.4 701.5) translate(1822.4 701.5) scale(1 1.04) translate(-1822.4 -701.5)">IGL repertoire</text>
<circle cx="1168.1" cy="719" r="28" fill="#adbfcc" stroke="#ffffff" stroke-width="1.2"/>
<circle cx="1218.9" cy="719" r="21.2" fill="#adbfcc" stroke="#ffffff" stroke-width="1.2"/>
<circle cx="1200.1" cy="758.2" r="21" fill="#adbfcc" stroke="#ffffff" stroke-width="1.2"/>
<circle cx="1200.1" cy="680.1" r="20.7" fill="#adbfcc" stroke="#ffffff" stroke-width="1.2"/>
<circle cx="1242.6" cy="683.2" r="20.7" fill="#adbfcc" stroke="#ffffff" stroke-width="1.2"/>
<circle cx="1261.9" cy="721" r="20.3" fill="#adbfcc" stroke="#ffffff" stroke-width="1.2"/>
<circle cx="1242.2" cy="757.6" r="19.8" fill="#adbfcc" stroke="#ffffff" stroke-width="1.2"/>
<circle cx="1159.7" cy="766.4" r="18.9" fill="#adbfcc" stroke="#ffffff" stroke-width="1.2"/>
<circle cx="1127.8" cy="744.6" r="18.6" fill="#adbfcc" stroke="#ffffff" stroke-width="1.2"/>
<circle cx="1122" cy="707.3" r="18" fill="#adbfcc" stroke="#ffffff" stroke-width="1.2"/>
<circle cx="1145.1" cy="677.8" r="18" fill="#adbfcc" stroke="#ffffff" stroke-width="1.2"/>
<circle cx="1171.5" cy="652.8" r="17.2" fill="#adbfcc" stroke="#ffffff" stroke-width="1.2"/>
<circle cx="1204.5" cy="641.4" r="16.6" fill="#587a93" stroke="#ffffff" stroke-width="1.2"/>
<circle cx="1238.3" cy="645.3" r="16.3" fill="#adbfcc" stroke="#ffffff" stroke-width="1.2"/>
<circle cx="1222.4" cy="788.9" r="15.8" fill="#adbfcc" stroke="#ffffff" stroke-width="1.2"/>
<circle cx="1190.4" cy="794.5" r="15.4" fill="#adbfcc" stroke="#ffffff" stroke-width="1.2"/>
<circle cx="1159.2" cy="801.5" r="15" fill="#adbfcc" stroke="#ffffff" stroke-width="1.2"/>
<circle cx="1268" cy="657.2" r="14.5" fill="#adbfcc" stroke="#ffffff" stroke-width="1.2"/>
<circle cx="1278.2" cy="684.8" r="13.6" fill="#adbfcc" stroke="#ffffff" stroke-width="1.2"/>
<circle cx="1294.5" cy="708.1" r="13.6" fill="#adbfcc" stroke="#ffffff" stroke-width="1.2"/>
<circle cx="1276.1" cy="753.2" r="13.1" fill="#adbfcc" stroke="#ffffff" stroke-width="1.2"/>
<circle cx="1268.2" cy="779.8" r="13.1" fill="#adbfcc" stroke="#ffffff" stroke-width="1.2"/>
<circle cx="1249.8" cy="799.4" r="12.4" fill="#adbfcc" stroke="#ffffff" stroke-width="1.2"/>
<circle cx="1134.8" cy="787.1" r="12.4" fill="#adbfcc" stroke="#ffffff" stroke-width="1.2"/>
<circle cx="1295.4" cy="735" r="12.2" fill="#587a93" stroke="#ffffff" stroke-width="1.2"/>
<circle cx="1113.2" cy="772.7" r="12.2" fill="#adbfcc" stroke="#ffffff" stroke-width="1.2"/>
<circle cx="1113.7" cy="677.1" r="12.2" fill="#adbfcc" stroke="#ffffff" stroke-width="1.2"/>
<circle cx="1124.6" cy="654.6" r="11.9" fill="#adbfcc" stroke="#ffffff" stroke-width="1.2"/>
<circle cx="1144.8" cy="638.8" r="11.9" fill="#adbfcc" stroke="#ffffff" stroke-width="1.2"/>
<circle cx="1164.1" cy="623.9" r="11.4" fill="#adbfcc" stroke="#ffffff" stroke-width="1.2"/>
<circle cx="1098.8" cy="753.4" r="11" fill="#adbfcc" stroke="#ffffff" stroke-width="1.2"/>
<circle cx="1187.3" cy="619" r="11" fill="#adbfcc" stroke="#ffffff" stroke-width="1.2"/>
<circle cx="1101.3" cy="730.6" r="10.5" fill="#adbfcc" stroke="#ffffff" stroke-width="1.2"/>
<circle cx="1092.7" cy="709.9" r="10.5" fill="#adbfcc" stroke="#ffffff" stroke-width="1.2"/>
<circle cx="1231.3" cy="814.7" r="10.1" fill="#587a93" stroke="#ffffff" stroke-width="1.2"/>
<circle cx="1209.7" cy="812.6" r="10.1" fill="#adbfcc" stroke="#ffffff" stroke-width="1.2"/>
<circle cx="1191" cy="820.8" r="9.8" fill="#adbfcc" stroke="#ffffff" stroke-width="1.2"/>
<circle cx="1094.2" cy="688.8" r="9.6" fill="#adbfcc" stroke="#ffffff" stroke-width="1.2"/>
<circle cx="1170.8" cy="824.5" r="9.6" fill="#adbfcc" stroke="#ffffff" stroke-width="1.2"/>
<circle cx="1208.3" cy="614.6" r="9.3" fill="#adbfcc" stroke="#ffffff" stroke-width="1.2"/>
<circle cx="1226.9" cy="620.7" r="9.3" fill="#adbfcc" stroke="#ffffff" stroke-width="1.2"/>
<circle cx="1246.6" cy="620" r="9.3" fill="#adbfcc" stroke="#ffffff" stroke-width="1.2"/>
<circle cx="1280.8" cy="635.8" r="9.3" fill="#adbfcc" stroke="#ffffff" stroke-width="1.2"/>
<circle cx="1261.9" cy="632.1" r="8.9" fill="#adbfcc" stroke="#ffffff" stroke-width="1.2"/>
<circle cx="1291" cy="664.8" r="8.4" fill="#adbfcc" stroke="#ffffff" stroke-width="1.2"/>
<circle cx="1301" cy="679.5" r="8.4" fill="#adbfcc" stroke="#ffffff" stroke-width="1.2"/>
<circle cx="1312.1" cy="693.2" r="8.4" fill="#adbfcc" stroke="#ffffff" stroke-width="1.2"/>
<circle cx="1298.9" cy="756.4" r="8.4" fill="#adbfcc" stroke="#ffffff" stroke-width="1.2"/>
<circle cx="1290" cy="772.6" r="8.4" fill="#adbfcc" stroke="#ffffff" stroke-width="1.2"/>
<circle cx="1151.8" cy="824.9" r="8.4" fill="#adbfcc" stroke="#ffffff" stroke-width="1.2"/>
<circle cx="1138.1" cy="813.5" r="8" fill="#adbfcc" stroke="#ffffff" stroke-width="1.2"/>
<circle cx="1123.4" cy="805.2" r="7.9" fill="#adbfcc" stroke="#ffffff" stroke-width="1.2"/>
<circle cx="1287.8" cy="788.9" r="7.5" fill="#adbfcc" stroke="#ffffff" stroke-width="1.2"/>
<circle cx="1276.1" cy="800.3" r="7.5" fill="#adbfcc" stroke="#ffffff" stroke-width="1.2"/>
<circle cx="1111.1" cy="793.8" r="7.5" fill="#adbfcc" stroke="#ffffff" stroke-width="1.2"/>
<circle cx="1094.2" cy="669.9" r="7.5" fill="#adbfcc" stroke="#ffffff" stroke-width="1.2"/>
<circle cx="1104.1" cy="657.2" r="7.5" fill="#adbfcc" stroke="#ffffff" stroke-width="1.2"/>
<circle cx="1266.4" cy="812.6" r="7.2" fill="#adbfcc" stroke="#ffffff" stroke-width="1.2"/>
<circle cx="1219" cy="828.4" r="7.2" fill="#adbfcc" stroke="#ffffff" stroke-width="1.2"/>
<circle cx="1204.5" cy="832.8" r="7" fill="#adbfcc" stroke="#ffffff" stroke-width="1.2"/>
<circle cx="1125" cy="634.1" r="7" fill="#adbfcc" stroke="#ffffff" stroke-width="1.2"/>
<circle cx="1293.1" cy="647.6" r="7" fill="#adbfcc" stroke="#ffffff" stroke-width="1.2"/>
<circle cx="1315.6" cy="709" r="6.6" fill="#adbfcc" stroke="#ffffff" stroke-width="1.2"/>
<circle cx="1253.1" cy="819.6" r="6.6" fill="#adbfcc" stroke="#ffffff" stroke-width="1.2"/>
<circle cx="1242.2" cy="829.3" r="6.6" fill="#adbfcc" stroke="#ffffff" stroke-width="1.2"/>
<circle cx="1085.1" cy="740.1" r="6.6" fill="#adbfcc" stroke="#ffffff" stroke-width="1.2"/>
<circle cx="1083" cy="725.7" r="6.6" fill="#adbfcc" stroke="#ffffff" stroke-width="1.2"/>
<circle cx="1074.6" cy="713.9" r="6.6" fill="#adbfcc" stroke="#ffffff" stroke-width="1.2"/>
<circle cx="1108.8" cy="642.8" r="6.6" fill="#adbfcc" stroke="#ffffff" stroke-width="1.2"/>
<circle cx="1133.9" cy="622.1" r="6.6" fill="#587a93" stroke="#ffffff" stroke-width="1.2"/>
<circle cx="1146.2" cy="614.8" r="6.6" fill="#adbfcc" stroke="#ffffff" stroke-width="1.2"/>
<circle cx="1310.7" cy="721.3" r="6.3" fill="#adbfcc" stroke="#ffffff" stroke-width="1.2"/>
<circle cx="1315.1" cy="734.5" r="6.3" fill="#adbfcc" stroke="#ffffff" stroke-width="1.2"/>
<circle cx="1111.4" cy="629.1" r="6.3" fill="#adbfcc" stroke="#ffffff" stroke-width="1.2"/>
<circle cx="1098.6" cy="785.4" r="6.1" fill="#adbfcc" stroke="#ffffff" stroke-width="1.2"/>
<circle cx="1311.2" cy="746.8" r="5.7" fill="#adbfcc" stroke="#ffffff" stroke-width="1.2"/>
<circle cx="1230.4" cy="836.6" r="5.7" fill="#adbfcc" stroke="#ffffff" stroke-width="1.2"/>
<circle cx="1191" cy="836.6" r="5.7" fill="#adbfcc" stroke="#ffffff" stroke-width="1.2"/>
<circle cx="1084.8" cy="764.3" r="5.7" fill="#adbfcc" stroke="#ffffff" stroke-width="1.2"/>
<circle cx="1157.6" cy="606.7" r="5.7" fill="#adbfcc" stroke="#ffffff" stroke-width="1.2"/>
<circle cx="1170.2" cy="606.3" r="5.7" fill="#adbfcc" stroke="#ffffff" stroke-width="1.2"/>
<circle cx="1182" cy="601.4" r="5.7" fill="#adbfcc" stroke="#ffffff" stroke-width="1.2"/>
<circle cx="1194.5" cy="602.5" r="5.7" fill="#adbfcc" stroke="#ffffff" stroke-width="1.2"/>
<circle cx="1205.9" cy="598.4" r="5.7" fill="#adbfcc" stroke="#ffffff" stroke-width="1.2"/>
<circle cx="1313.8" cy="759" r="5.4" fill="#adbfcc" stroke="#ffffff" stroke-width="1.2"/>
<circle cx="1304.9" cy="770.5" r="5.4" fill="#adbfcc" stroke="#ffffff" stroke-width="1.2"/>
<circle cx="1301.5" cy="781.9" r="5.4" fill="#adbfcc" stroke="#ffffff" stroke-width="1.2"/>
<circle cx="1301" cy="793.8" r="5.4" fill="#adbfcc" stroke="#ffffff" stroke-width="1.2"/>
<circle cx="1178.7" cy="838.9" r="5.4" fill="#adbfcc" stroke="#ffffff" stroke-width="1.2"/>
<circle cx="1080.2" cy="752.9" r="5.4" fill="#adbfcc" stroke="#ffffff" stroke-width="1.2"/>
<circle cx="1077.2" cy="701.1" r="5.4" fill="#adbfcc" stroke="#ffffff" stroke-width="1.2"/>
<circle cx="1077.7" cy="688.8" r="5.4" fill="#adbfcc" stroke="#ffffff" stroke-width="1.2"/>
<circle cx="1081.9" cy="677.8" r="5.4" fill="#adbfcc" stroke="#ffffff" stroke-width="1.2"/>
<circle cx="1218" cy="594" r="5.4" fill="#adbfcc" stroke="#ffffff" stroke-width="1.2"/>
<circle cx="1221.7" cy="605.8" r="5.4" fill="#adbfcc" stroke="#ffffff" stroke-width="1.2"/>
<circle cx="1233.8" cy="606.7" r="5.4" fill="#adbfcc" stroke="#ffffff" stroke-width="1.2"/>
<circle cx="1245.7" cy="604" r="5.4" fill="#adbfcc" stroke="#ffffff" stroke-width="1.2"/>
<circle cx="1316.8" cy="770.1" r="5.2" fill="#adbfcc" stroke="#ffffff" stroke-width="1.2"/>
<circle cx="1167.3" cy="839.8" r="5.2" fill="#adbfcc" stroke="#ffffff" stroke-width="1.2"/>
<circle cx="1155.8" cy="838.9" r="5.2" fill="#adbfcc" stroke="#ffffff" stroke-width="1.2"/>
<circle cx="1262" cy="616.5" r="5.2" fill="#adbfcc" stroke="#ffffff" stroke-width="1.2"/>
<circle cx="1272.9" cy="620.9" r="5.2" fill="#adbfcc" stroke="#ffffff" stroke-width="1.2"/>
<circle cx="1284.7" cy="620.9" r="5.2" fill="#adbfcc" stroke="#ffffff" stroke-width="1.2"/>
<circle cx="1119" cy="818.2" r="4.9" fill="#587a93" stroke="#ffffff" stroke-width="1.2"/>
<circle cx="1090.7" cy="657.2" r="4.9" fill="#adbfcc" stroke="#ffffff" stroke-width="1.2"/>
<circle cx="1096" cy="647.1" r="4.9" fill="#adbfcc" stroke="#ffffff" stroke-width="1.2"/>
<circle cx="1097.4" cy="636.2" r="4.9" fill="#adbfcc" stroke="#ffffff" stroke-width="1.2"/>
<circle cx="1121.4" cy="620.9" r="4.9" fill="#adbfcc" stroke="#ffffff" stroke-width="1.2"/>
<circle cx="1257.1" cy="606.3" r="4.9" fill="#adbfcc" stroke="#ffffff" stroke-width="1.2"/>
<circle cx="1303.3" cy="657.2" r="4.9" fill="#adbfcc" stroke="#ffffff" stroke-width="1.2"/>
<circle cx="1309.3" cy="667.2" r="4.9" fill="#adbfcc" stroke="#ffffff" stroke-width="1.2"/>
<circle cx="1297" cy="800.3" r="2.2" fill="#adbfcc" stroke="#ffffff" stroke-width="1.2"/>
<circle cx="1137.8" cy="827.5" r="4.5" fill="#587a93" stroke="#ffffff" stroke-width="1.2"/>
<circle cx="1315.1" cy="676.5" r="4.5" fill="#adbfcc" stroke="#ffffff" stroke-width="1.2"/>
<circle cx="1323" cy="683.9" r="4.5" fill="#adbfcc" stroke="#ffffff" stroke-width="1.2"/>
<circle cx="1128.1" cy="823.1" r="4.3" fill="#adbfcc" stroke="#ffffff" stroke-width="1.2"/>
<circle cx="1103.9" cy="804.7" r="4.3" fill="#587a93" stroke="#ffffff" stroke-width="1.2"/>
<circle cx="1110.9" cy="811.3" r="4.3" fill="#adbfcc" stroke="#ffffff" stroke-width="1.2"/>
<circle cx="1074.2" cy="743.8" r="4.3" fill="#adbfcc" stroke="#ffffff" stroke-width="1.2"/>
<circle cx="1324.7" cy="728.7" r="4.3" fill="#adbfcc" stroke="#ffffff" stroke-width="1.2"/>
<circle cx="1322.1" cy="719.2" r="4.3" fill="#adbfcc" stroke="#ffffff" stroke-width="1.2"/>
<circle cx="1277.8" cy="819.1" r="4.3" fill="#adbfcc" stroke="#ffffff" stroke-width="1.2"/>
<circle cx="1220.3" cy="841.5" r="4.3" fill="#adbfcc" stroke="#ffffff" stroke-width="1.2"/>
<circle cx="1210.3" cy="844.5" r="4.3" fill="#587a93" stroke="#ffffff" stroke-width="1.2"/>
<circle cx="1081.6" cy="666.9" r="4.3" fill="#adbfcc" stroke="#ffffff" stroke-width="1.2"/>
<circle cx="1289.1" cy="802.4" r="4.3" fill="#adbfcc" stroke="#ffffff" stroke-width="1.2"/>
<circle cx="1283.5" cy="810.8" r="4.3" fill="#587a93" stroke="#ffffff" stroke-width="1.2"/>
<circle cx="1146" cy="836.6" r="4" fill="#adbfcc" stroke="#ffffff" stroke-width="1.2"/>
<circle cx="1137.2" cy="837.2" r="4" fill="#adbfcc" stroke="#ffffff" stroke-width="1.2"/>
<circle cx="1074.6" cy="734.8" r="4" fill="#adbfcc" stroke="#ffffff" stroke-width="1.2"/>
<circle cx="1071.4" cy="726.2" r="4" fill="#adbfcc" stroke="#ffffff" stroke-width="1.2"/>
<circle cx="1201" cy="844.5" r="4" fill="#adbfcc" stroke="#ffffff" stroke-width="1.2"/>
<circle cx="1192.7" cy="848.2" r="4" fill="#adbfcc" stroke="#ffffff" stroke-width="1.2"/>
<circle cx="1061.9" cy="720.4" r="4" fill="#adbfcc" stroke="#ffffff" stroke-width="1.2"/>
<circle cx="1078.1" cy="657.2" r="4" fill="#adbfcc" stroke="#ffffff" stroke-width="1.2"/>
<circle cx="1263.8" cy="824.3" r="3.6" fill="#adbfcc" stroke="#ffffff" stroke-width="1.2"/>
<circle cx="1257.7" cy="830.1" r="3.6" fill="#adbfcc" stroke="#ffffff" stroke-width="1.2"/>
<circle cx="1136" cy="611.1" r="3.6" fill="#adbfcc" stroke="#ffffff" stroke-width="1.2"/>
<circle cx="1171.6" cy="596.1" r="3.5" fill="#adbfcc" stroke="#ffffff" stroke-width="1.2"/>
<circle cx="1178.5" cy="591.9" r="3.5" fill="#adbfcc" stroke="#ffffff" stroke-width="1.2"/>
<circle cx="1251.3" cy="835.7" r="3.3" fill="#adbfcc" stroke="#ffffff" stroke-width="1.2"/>
<circle cx="1140.9" cy="605.1" r="3.3" fill="#587a93" stroke="#ffffff" stroke-width="1.2"/>
<circle cx="1320.3" cy="744.1" r="3.1" fill="#adbfcc" stroke="#ffffff" stroke-width="1.2"/>
<circle cx="1126.7" cy="613.4" r="3.1" fill="#adbfcc" stroke="#ffffff" stroke-width="1.2"/>
<circle cx="1129.5" cy="606.7" r="3.1" fill="#adbfcc" stroke="#ffffff" stroke-width="1.2"/>
<circle cx="1148.3" cy="602.5" r="3.1" fill="#587a93" stroke="#ffffff" stroke-width="1.2"/>
<circle cx="1163.7" cy="598.1" r="3.1" fill="#adbfcc" stroke="#ffffff" stroke-width="1.2"/>
<circle cx="1188.7" cy="594.4" r="3.1" fill="#adbfcc" stroke="#ffffff" stroke-width="1.2"/>
<circle cx="1226.9" cy="597.2" r="3.1" fill="#adbfcc" stroke="#ffffff" stroke-width="1.2"/>
<circle cx="1234.3" cy="597" r="3.1" fill="#adbfcc" stroke="#ffffff" stroke-width="1.2"/>
<circle cx="1271.5" cy="825.2" r="3.1" fill="#adbfcc" stroke="#ffffff" stroke-width="1.2"/>
<circle cx="1201.8" cy="589.7" r="2.9" fill="#adbfcc" stroke="#ffffff" stroke-width="1.2"/>
<circle cx="1195.3" cy="592.8" r="2.8" fill="#adbfcc" stroke="#ffffff" stroke-width="1.2"/>
<circle cx="1245.2" cy="838.9" r="2.6" fill="#adbfcc" stroke="#ffffff" stroke-width="1.2"/>
<circle cx="1239.6" cy="839.3" r="2.6" fill="#adbfcc" stroke="#ffffff" stroke-width="1.2"/>
<circle cx="1185.7" cy="845.1" r="2.6" fill="#adbfcc" stroke="#ffffff" stroke-width="1.2"/>
<circle cx="1071.1" cy="706.4" r="2.6" fill="#adbfcc" stroke="#ffffff" stroke-width="1.2"/>
<circle cx="1100.9" cy="628.3" r="2.6" fill="#adbfcc" stroke="#ffffff" stroke-width="1.2"/>
<circle cx="1153.6" cy="598.1" r="2.6" fill="#587a93" stroke="#ffffff" stroke-width="1.2"/>
<circle cx="1158" cy="594" r="2.6" fill="#adbfcc" stroke="#ffffff" stroke-width="1.2"/>
<circle cx="1184.8" cy="588.8" r="2.6" fill="#adbfcc" stroke="#ffffff" stroke-width="1.2"/>
<circle cx="1241.3" cy="596.1" r="2.6" fill="#adbfcc" stroke="#ffffff" stroke-width="1.2"/>
<circle cx="1290.5" cy="627.7" r="2.6" fill="#adbfcc" stroke="#ffffff" stroke-width="1.2"/>
<circle cx="1293.1" cy="633.5" r="2.6" fill="#adbfcc" stroke="#ffffff" stroke-width="1.2"/>
<circle cx="1297.8" cy="637.9" r="2.6" fill="#adbfcc" stroke="#ffffff" stroke-width="1.2"/>
<circle cx="1179.9" cy="847.3" r="2.2" fill="#adbfcc" stroke="#ffffff" stroke-width="1.2"/>
<circle cx="1175.2" cy="847.3" r="2.2" fill="#adbfcc" stroke="#ffffff" stroke-width="1.2"/>
<circle cx="1170.2" cy="848" r="2.2" fill="#adbfcc" stroke="#ffffff" stroke-width="1.2"/>
<circle cx="1208.3" cy="590" r="2.2" fill="#adbfcc" stroke="#ffffff" stroke-width="1.2"/>
<circle cx="1212.9" cy="587" r="2.2" fill="#adbfcc" stroke="#ffffff" stroke-width="1.2"/>
<circle cx="1264.5" cy="608.4" r="2.2" fill="#adbfcc" stroke="#ffffff" stroke-width="1.2"/>
<circle cx="1269.1" cy="612.1" r="2.2" fill="#adbfcc" stroke="#ffffff" stroke-width="1.2"/>
<circle cx="1274.7" cy="612.8" r="2.2" fill="#adbfcc" stroke="#ffffff" stroke-width="1.2"/>
<circle cx="1302.2" cy="642.7" r="2.2" fill="#adbfcc" stroke="#ffffff" stroke-width="1.2"/>
<circle cx="1303.6" cy="647.9" r="2.2" fill="#587a93" stroke="#ffffff" stroke-width="1.2"/>
<circle cx="1329.1" cy="715.2" r="2.2" fill="#adbfcc" stroke="#ffffff" stroke-width="1.2"/>
<circle cx="1325.9" cy="710.4" r="2.2" fill="#adbfcc" stroke="#ffffff" stroke-width="1.2"/>
<circle cx="1324.7" cy="704.3" r="2.2" fill="#adbfcc" stroke="#ffffff" stroke-width="1.2"/>
<circle cx="1324.2" cy="698.1" r="2.2" fill="#adbfcc" stroke="#ffffff" stroke-width="1.2"/>
<circle cx="1323.8" cy="692.3" r="2.2" fill="#adbfcc" stroke="#ffffff" stroke-width="1.2"/>
<circle cx="1325.6" cy="736.2" r="2.2" fill="#adbfcc" stroke="#ffffff" stroke-width="1.2"/>
<circle cx="1326.5" cy="741.5" r="2.2" fill="#adbfcc" stroke="#ffffff" stroke-width="1.2"/>
<circle cx="1320.3" cy="750.3" r="2.2" fill="#adbfcc" stroke="#ffffff" stroke-width="1.2"/>
<circle cx="1322.1" cy="756.1" r="2.2" fill="#adbfcc" stroke="#ffffff" stroke-width="1.2"/>
<circle cx="1311" cy="776.6" r="2.2" fill="#adbfcc" stroke="#ffffff" stroke-width="1.2"/>
<circle cx="1310.7" cy="782.7" r="2.2" fill="#adbfcc" stroke="#ffffff" stroke-width="1.2"/>
<circle cx="1085.3" cy="778.6" r="8.2" fill="#adbfcc" stroke="#ffffff" stroke-width="1.2"/>
<circle cx="1094.4" cy="797.5" r="6.3" fill="#adbfcc" stroke="#ffffff" stroke-width="1.2"/>
<circle cx="1068.5" cy="694.6" r="5.1" fill="#adbfcc" stroke="#ffffff" stroke-width="1.2"/>
<circle cx="1095.8" cy="769.5" r="5" fill="#adbfcc" stroke="#ffffff" stroke-width="1.2"/>
<circle cx="1073.4" cy="761.8" r="5" fill="#adbfcc" stroke="#ffffff" stroke-width="1.2"/>
<circle cx="1071.3" cy="680.6" r="4.6" fill="#adbfcc" stroke="#ffffff" stroke-width="1.2"/>
<circle cx="1086" cy="648.4" r="4.5" fill="#587a93" stroke="#ffffff" stroke-width="1.2"/>
<circle cx="1069.9" cy="752" r="4.5" fill="#adbfcc" stroke="#ffffff" stroke-width="1.2"/>
<circle cx="1111.9" cy="618.3" r="4.2" fill="#adbfcc" stroke="#ffffff" stroke-width="1.2"/>
<circle cx="1074.1" cy="671.5" r="4.1" fill="#adbfcc" stroke="#ffffff" stroke-width="1.2"/>
<circle cx="1067.1" cy="738.7" r="4.1" fill="#adbfcc" stroke="#ffffff" stroke-width="1.2"/>
<circle cx="1165.8" cy="591" r="3.9" fill="#adbfcc" stroke="#ffffff" stroke-width="1.2"/>
<circle cx="1130.1" cy="831.8" r="3.9" fill="#adbfcc" stroke="#ffffff" stroke-width="1.2"/>
<circle cx="1312.8" cy="658.9" r="3.9" fill="#adbfcc" stroke="#ffffff" stroke-width="1.2"/>
<circle cx="1119.6" cy="612" r="3.8" fill="#adbfcc" stroke="#ffffff" stroke-width="1.2"/>
<circle cx="1065" cy="709.3" r="3.7" fill="#adbfcc" stroke="#ffffff" stroke-width="1.2"/>
<circle cx="1227.4" cy="845.8" r="3.6" fill="#adbfcc" stroke="#ffffff" stroke-width="1.2"/>
<circle cx="1075.5" cy="770.9" r="3.6" fill="#adbfcc" stroke="#ffffff" stroke-width="1.2"/>
<circle cx="1086.7" cy="790.5" r="3.4" fill="#adbfcc" stroke="#ffffff" stroke-width="1.2"/>
<circle cx="1191" cy="587.5" r="3.4" fill="#adbfcc" stroke="#ffffff" stroke-width="1.2"/>
<circle cx="1065" cy="731" r="3.4" fill="#adbfcc" stroke="#ffffff" stroke-width="1.2"/>
<circle cx="1317.7" cy="668.7" r="3.4" fill="#adbfcc" stroke="#ffffff" stroke-width="1.2"/>
<circle cx="1297.4" cy="691.1" r="3.3" fill="#adbfcc" stroke="#ffffff" stroke-width="1.2"/>
<circle cx="1090.2" cy="640.7" r="3.3" fill="#adbfcc" stroke="#ffffff" stroke-width="1.2"/>
<circle cx="1142.7" cy="598" r="3.2" fill="#adbfcc" stroke="#ffffff" stroke-width="1.2"/>
<circle cx="1309.3" cy="651.2" r="3.2" fill="#587a93" stroke="#ffffff" stroke-width="1.2"/>
<circle cx="1121" cy="826.9" r="3.2" fill="#adbfcc" stroke="#ffffff" stroke-width="1.2"/>
<circle cx="1226.7" cy="590.3" r="3.2" fill="#adbfcc" stroke="#ffffff" stroke-width="1.2"/>
<circle cx="1216.9" cy="848.6" r="3.1" fill="#adbfcc" stroke="#ffffff" stroke-width="1.2"/>
<circle cx="1134.3" cy="602.2" r="3.1" fill="#adbfcc" stroke="#ffffff" stroke-width="1.2"/>
<circle cx="1307.9" cy="788.4" r="3" fill="#adbfcc" stroke="#ffffff" stroke-width="1.2"/>
<circle cx="1182.6" cy="831.1" r="3" fill="#adbfcc" stroke="#ffffff" stroke-width="1.2"/>
<circle cx="1065" cy="702.3" r="3" fill="#adbfcc" stroke="#ffffff" stroke-width="1.2"/>
<circle cx="1235.1" cy="844.4" r="3" fill="#adbfcc" stroke="#ffffff" stroke-width="1.2"/>
<circle cx="1291.1" cy="810.1" r="2.9" fill="#adbfcc" stroke="#ffffff" stroke-width="1.2"/>
<circle cx="1160.9" cy="845.8" r="2.9" fill="#adbfcc" stroke="#ffffff" stroke-width="1.2"/>
<circle cx="1265.9" cy="796.8" r="2.9" fill="#adbfcc" stroke="#ffffff" stroke-width="1.2"/>
<circle cx="1085.3" cy="698.1" r="2.9" fill="#adbfcc" stroke="#ffffff" stroke-width="1.2"/>
<circle cx="1110.5" cy="819.2" r="2.9" fill="#adbfcc" stroke="#ffffff" stroke-width="1.2"/>
<circle cx="1102.8" cy="812.2" r="2.8" fill="#adbfcc" stroke="#ffffff" stroke-width="1.2"/>
<circle cx="1264.5" cy="831.1" r="2.8" fill="#adbfcc" stroke="#ffffff" stroke-width="1.2"/>
<circle cx="1244.9" cy="814.3" r="2.8" fill="#adbfcc" stroke="#ffffff" stroke-width="1.2"/>
<circle cx="1126.6" cy="815.7" r="2.8" fill="#adbfcc" stroke="#ffffff" stroke-width="1.2"/>
<circle cx="1285.5" cy="654.7" r="2.8" fill="#adbfcc" stroke="#ffffff" stroke-width="1.2"/>
<circle cx="1213.4" cy="837.4" r="2.7" fill="#adbfcc" stroke="#ffffff" stroke-width="1.2"/>
<circle cx="1253.3" cy="599.4" r="2.7" fill="#adbfcc" stroke="#ffffff" stroke-width="1.2"/>
<circle cx="1148.3" cy="595.2" r="2.7" fill="#adbfcc" stroke="#ffffff" stroke-width="1.2"/>
<circle cx="1149.7" cy="623.9" r="2.7" fill="#adbfcc" stroke="#ffffff" stroke-width="1.2"/>
<circle cx="1214.1" cy="601.5" r="2.7" fill="#adbfcc" stroke="#ffffff" stroke-width="1.2"/>
<circle cx="1104.2" cy="623.2" r="2.7" fill="#adbfcc" stroke="#ffffff" stroke-width="1.2"/>
<circle cx="1172.8" cy="588.9" r="2.6" fill="#adbfcc" stroke="#ffffff" stroke-width="1.2"/>
<circle cx="1160.9" cy="832.5" r="2.6" fill="#adbfcc" stroke="#ffffff" stroke-width="1.2"/>
<circle cx="1143.4" cy="623.9" r="2.6" fill="#adbfcc" stroke="#ffffff" stroke-width="1.2"/>
<circle cx="1229.5" cy="827.6" r="2.6" fill="#adbfcc" stroke="#ffffff" stroke-width="1.2"/>
<circle cx="1204.3" cy="850.7" r="2.5" fill="#adbfcc" stroke="#ffffff" stroke-width="1.2"/>
<circle cx="1283.4" cy="649.1" r="2.5" fill="#adbfcc" stroke="#ffffff" stroke-width="1.2"/>
<circle cx="1197.3" cy="586.1" r="2.5" fill="#adbfcc" stroke="#ffffff" stroke-width="1.2"/>
<circle cx="1243.5" cy="819.9" r="2.5" fill="#adbfcc" stroke="#ffffff" stroke-width="1.2"/>
<circle cx="1295.3" cy="805.9" r="2.5" fill="#adbfcc" stroke="#ffffff" stroke-width="1.2"/>
<circle cx="1118.2" cy="641.4" r="2.4" fill="#adbfcc" stroke="#ffffff" stroke-width="1.2"/>
<circle cx="1325.4" cy="747.1" r="2.4" fill="#adbfcc" stroke="#ffffff" stroke-width="1.2"/>
<circle cx="1186.1" cy="850.7" r="2.4" fill="#adbfcc" stroke="#ffffff" stroke-width="1.2"/>
<circle cx="1276.4" cy="811.5" r="2.4" fill="#adbfcc" stroke="#ffffff" stroke-width="1.2"/>
<circle cx="1265.2" cy="802.4" r="2.4" fill="#adbfcc" stroke="#ffffff" stroke-width="1.2"/>
<circle cx="1112.6" cy="804.5" r="2.4" fill="#adbfcc" stroke="#ffffff" stroke-width="1.2"/>
<circle cx="1174.2" cy="614.1" r="2.4" fill="#adbfcc" stroke="#ffffff" stroke-width="1.2"/>
<circle cx="1066.4" cy="745.7" r="2.4" fill="#adbfcc" stroke="#ffffff" stroke-width="1.2"/>
<circle cx="1121.7" cy="794.7" r="2.4" fill="#adbfcc" stroke="#ffffff" stroke-width="1.2"/>
<circle cx="1301.6" cy="668" r="2.4" fill="#adbfcc" stroke="#ffffff" stroke-width="1.2"/>
<circle cx="1328.2" cy="722.6" r="2.3" fill="#adbfcc" stroke="#ffffff" stroke-width="1.2"/>
<circle cx="1074.8" cy="664.5" r="2.3" fill="#adbfcc" stroke="#ffffff" stroke-width="1.2"/>
<circle cx="1097.2" cy="806.6" r="2.3" fill="#adbfcc" stroke="#ffffff" stroke-width="1.2"/>
<circle cx="1321.2" cy="762.5" r="2.3" fill="#adbfcc" stroke="#ffffff" stroke-width="1.2"/>
<circle cx="1067.1" cy="686.9" r="2.3" fill="#adbfcc" stroke="#ffffff" stroke-width="1.2"/>
<circle cx="1133.6" cy="803.1" r="2.3" fill="#adbfcc" stroke="#ffffff" stroke-width="1.2"/>
<circle cx="1083.9" cy="660.3" r="2.2" fill="#adbfcc" stroke="#ffffff" stroke-width="1.2"/>
<circle cx="1232.3" cy="591.7" r="2.2" fill="#adbfcc" stroke="#ffffff" stroke-width="1.2"/>
<circle cx="1123.8" cy="607.1" r="2.2" fill="#adbfcc" stroke="#ffffff" stroke-width="1.2"/>
<circle cx="1098.6" cy="776.5" r="2.2" fill="#adbfcc" stroke="#ffffff" stroke-width="1.2"/>
<circle cx="1247" cy="595.9" r="2.2" fill="#adbfcc" stroke="#ffffff" stroke-width="1.2"/>
<circle cx="1319.8" cy="700.9" r="2.2" fill="#adbfcc" stroke="#ffffff" stroke-width="1.2"/>
<circle cx="1198.7" cy="850.7" r="2.2" fill="#adbfcc" stroke="#ffffff" stroke-width="1.2"/>
<circle cx="1318.4" cy="725.4" r="2.1" fill="#adbfcc" stroke="#ffffff" stroke-width="1.2"/>
<circle cx="1279.2" cy="615.5" r="2.1" fill="#adbfcc" stroke="#ffffff" stroke-width="1.2"/>
<circle cx="1237.9" cy="592.4" r="2.1" fill="#adbfcc" stroke="#ffffff" stroke-width="1.2"/>
<circle cx="1202.9" cy="823.4" r="2.1" fill="#adbfcc" stroke="#ffffff" stroke-width="1.2"/>
<circle cx="1149" cy="842.3" r="2.1" fill="#adbfcc" stroke="#ffffff" stroke-width="1.2"/>
<circle cx="1251.2" cy="829.7" r="2" fill="#587a93" stroke="#ffffff" stroke-width="1.2"/>
<circle cx="1236.5" cy="614.1" r="2" fill="#adbfcc" stroke="#ffffff" stroke-width="1.2"/>
<circle cx="1321.9" cy="677.1" r="2" fill="#adbfcc" stroke="#ffffff" stroke-width="1.2"/>
<circle cx="1324.7" cy="752" r="2" fill="#adbfcc" stroke="#ffffff" stroke-width="1.2"/>
<circle cx="1068.5" cy="720.5" r="2" fill="#adbfcc" stroke="#ffffff" stroke-width="1.2"/>
<circle cx="1293.9" cy="796.8" r="2" fill="#adbfcc" stroke="#ffffff" stroke-width="1.2"/>
<circle cx="1205.7" cy="586.1" r="2" fill="#adbfcc" stroke="#ffffff" stroke-width="1.2"/>
<circle cx="1104.2" cy="633.7" r="1.9" fill="#adbfcc" stroke="#ffffff" stroke-width="1.2"/>
<circle cx="1256.8" cy="836.7" r="1.9" fill="#adbfcc" stroke="#ffffff" stroke-width="1.2"/>
<circle cx="1153.2" cy="593.1" r="1.9" fill="#adbfcc" stroke="#ffffff" stroke-width="1.2"/>
<circle cx="1116.1" cy="637.2" r="1.9" fill="#adbfcc" stroke="#ffffff" stroke-width="1.2"/>
<circle cx="1270.1" cy="640" r="1.9" fill="#adbfcc" stroke="#ffffff" stroke-width="1.2"/>
<circle cx="1177.7" cy="609.2" r="1.9" fill="#adbfcc" stroke="#ffffff" stroke-width="1.2"/>
<circle cx="1240.7" cy="609.9" r="1.9" fill="#adbfcc" stroke="#ffffff" stroke-width="1.2"/>
<circle cx="1307.2" cy="763.2" r="1.9" fill="#adbfcc" stroke="#ffffff" stroke-width="1.2"/>
<circle cx="1555.3" cy="716.9" r="22.9" fill="#adbfcc" stroke="#ffffff" stroke-width="1.2"/>
<circle cx="1602.4" cy="716.9" r="22.8" fill="#adbfcc" stroke="#ffffff" stroke-width="1.2"/>
<circle cx="1579" cy="676.5" r="22.4" fill="#adbfcc" stroke="#ffffff" stroke-width="1.2"/>
<circle cx="1625.2" cy="676.2" r="22.4" fill="#adbfcc" stroke="#ffffff" stroke-width="1.2"/>
<circle cx="1579" cy="756.9" r="22.4" fill="#adbfcc" stroke="#ffffff" stroke-width="1.2"/>
<circle cx="1648.5" cy="716" r="21.9" fill="#adbfcc" stroke="#ffffff" stroke-width="1.2"/>
<circle cx="1626.9" cy="755" r="21.2" fill="#adbfcc" stroke="#ffffff" stroke-width="1.2"/>
<circle cx="1605.9" cy="793.6" r="21.2" fill="#adbfcc" stroke="#ffffff" stroke-width="1.2"/>
<circle cx="1534.3" cy="756.4" r="21" fill="#adbfcc" stroke="#ffffff" stroke-width="1.2"/>
<circle cx="1511.4" cy="721.3" r="19.8" fill="#adbfcc" stroke="#ffffff" stroke-width="1.2"/>
<circle cx="1527.2" cy="684.4" r="18.9" fill="#adbfcc" stroke="#ffffff" stroke-width="1.2"/>
<circle cx="1545.3" cy="650.2" r="18.6" fill="#adbfcc" stroke="#ffffff" stroke-width="1.2"/>
<circle cx="1580.4" cy="634.8" r="18" fill="#adbfcc" stroke="#ffffff" stroke-width="1.2"/>
<circle cx="1617.6" cy="635.3" r="17.7" fill="#adbfcc" stroke="#ffffff" stroke-width="1.2"/>
<circle cx="1532.5" cy="795.4" r="16.6" fill="#adbfcc" stroke="#ffffff" stroke-width="1.2"/>
<circle cx="1490.9" cy="689.7" r="16.3" fill="#adbfcc" stroke="#ffffff" stroke-width="1.2"/>
<circle cx="1486.5" cy="749" r="16.3" fill="#adbfcc" stroke="#ffffff" stroke-width="1.2"/>
<circle cx="1502.7" cy="778.9" r="16.3" fill="#adbfcc" stroke="#ffffff" stroke-width="1.2"/>
<circle cx="1566.7" cy="795.6" r="16.3" fill="#adbfcc" stroke="#ffffff" stroke-width="1.2"/>
<circle cx="1502.3" cy="658.5" r="15.8" fill="#adbfcc" stroke="#ffffff" stroke-width="1.2"/>
<circle cx="1517.2" cy="629.1" r="15.4" fill="#adbfcc" stroke="#ffffff" stroke-width="1.2"/>
<circle cx="1664.3" cy="750.6" r="14.9" fill="#587a93" stroke="#ffffff" stroke-width="1.2"/>
<circle cx="1654.5" cy="779.8" r="14.9" fill="#adbfcc" stroke="#ffffff" stroke-width="1.2"/>
<circle cx="1640.1" cy="806.8" r="14.5" fill="#adbfcc" stroke="#ffffff" stroke-width="1.2"/>
<circle cx="1662" cy="671.8" r="13.6" fill="#adbfcc" stroke="#ffffff" stroke-width="1.2"/>
<circle cx="1648.4" cy="647.1" r="13.6" fill="#adbfcc" stroke="#ffffff" stroke-width="1.2"/>
<circle cx="1476.9" cy="719.9" r="13.1" fill="#adbfcc" stroke="#ffffff" stroke-width="1.2"/>
<circle cx="1461.4" cy="697.3" r="13.1" fill="#adbfcc" stroke="#ffffff" stroke-width="1.2"/>
<circle cx="1678.7" cy="694.6" r="13.1" fill="#adbfcc" stroke="#ffffff" stroke-width="1.2"/>
<circle cx="1684" cy="721.3" r="12.8" fill="#adbfcc" stroke="#ffffff" stroke-width="1.2"/>
<circle cx="1543.9" cy="618.3" r="12.2" fill="#adbfcc" stroke="#ffffff" stroke-width="1.2"/>
<circle cx="1692.2" cy="745.9" r="12.2" fill="#adbfcc" stroke="#ffffff" stroke-width="1.2"/>
<circle cx="1583.6" cy="819.1" r="11.5" fill="#adbfcc" stroke="#ffffff" stroke-width="1.2"/>
<circle cx="1566.4" cy="607.2" r="11.4" fill="#adbfcc" stroke="#ffffff" stroke-width="1.2"/>
<circle cx="1559.9" cy="823.6" r="11.4" fill="#adbfcc" stroke="#ffffff" stroke-width="1.2"/>
<circle cx="1619.9" cy="824" r="11" fill="#adbfcc" stroke="#ffffff" stroke-width="1.2"/>
<circle cx="1600.3" cy="836.6" r="11" fill="#adbfcc" stroke="#ffffff" stroke-width="1.2"/>
<circle cx="1536.2" cy="824" r="11" fill="#adbfcc" stroke="#ffffff" stroke-width="1.2"/>
<circle cx="1590.1" cy="606.3" r="10.5" fill="#adbfcc" stroke="#ffffff" stroke-width="1.2"/>
<circle cx="1612.9" cy="606.3" r="10.5" fill="#adbfcc" stroke="#ffffff" stroke-width="1.2"/>
<circle cx="1634.8" cy="611.6" r="10.5" fill="#adbfcc" stroke="#ffffff" stroke-width="1.2"/>
<circle cx="1515.1" cy="816.4" r="9.8" fill="#adbfcc" stroke="#ffffff" stroke-width="1.2"/>
<circle cx="1497.6" cy="805.6" r="9.8" fill="#adbfcc" stroke="#ffffff" stroke-width="1.2"/>
<circle cx="1653.3" cy="622.5" r="9.6" fill="#adbfcc" stroke="#ffffff" stroke-width="1.2"/>
<circle cx="1683.5" cy="767.5" r="9.6" fill="#adbfcc" stroke="#ffffff" stroke-width="1.2"/>
<circle cx="1679.1" cy="787.7" r="9.6" fill="#adbfcc" stroke="#ffffff" stroke-width="1.2"/>
<circle cx="1476" cy="655.8" r="9.3" fill="#adbfcc" stroke="#ffffff" stroke-width="1.2"/>
<circle cx="1469" cy="674.8" r="9.3" fill="#adbfcc" stroke="#ffffff" stroke-width="1.2"/>
<circle cx="1695.9" cy="679.2" r="8.7" fill="#adbfcc" stroke="#ffffff" stroke-width="1.2"/>
<circle cx="1671.7" cy="650.2" r="8.7" fill="#adbfcc" stroke="#ffffff" stroke-width="1.2"/>
<circle cx="1684.3" cy="664.3" r="8.7" fill="#adbfcc" stroke="#ffffff" stroke-width="1.2"/>
<circle cx="1455.8" cy="728" r="8.4" fill="#adbfcc" stroke="#ffffff" stroke-width="1.2"/>
<circle cx="1464" cy="762" r="8.4" fill="#587a93" stroke="#ffffff" stroke-width="1.2"/>
<circle cx="1485.3" cy="639.7" r="8" fill="#587a93" stroke="#ffffff" stroke-width="1.2"/>
<circle cx="1492.7" cy="623.5" r="8" fill="#adbfcc" stroke="#ffffff" stroke-width="1.2"/>
<circle cx="1461.1" cy="744.6" r="8" fill="#adbfcc" stroke="#ffffff" stroke-width="1.2"/>
<circle cx="1477.4" cy="773.1" r="8" fill="#adbfcc" stroke="#ffffff" stroke-width="1.2"/>
<circle cx="1482.5" cy="794.1" r="7.9" fill="#adbfcc" stroke="#ffffff" stroke-width="1.2"/>
<circle cx="1668.7" cy="632.7" r="7.5" fill="#adbfcc" stroke="#ffffff" stroke-width="1.2"/>
<circle cx="1467.6" cy="786.8" r="7.5" fill="#adbfcc" stroke="#ffffff" stroke-width="1.2"/>
<circle cx="1666.4" cy="799.8" r="7" fill="#adbfcc" stroke="#ffffff" stroke-width="1.2"/>
<circle cx="1661.5" cy="814.3" r="7" fill="#587a93" stroke="#ffffff" stroke-width="1.2"/>
<circle cx="1449.1" cy="713.8" r="6.6" fill="#adbfcc" stroke="#ffffff" stroke-width="1.2"/>
<circle cx="1698.9" cy="695" r="6.1" fill="#adbfcc" stroke="#ffffff" stroke-width="1.2"/>
<circle cx="1699.4" cy="708.5" r="6.1" fill="#adbfcc" stroke="#ffffff" stroke-width="1.2"/>
<circle cx="1581.8" cy="838" r="6.1" fill="#adbfcc" stroke="#ffffff" stroke-width="1.2"/>
<circle cx="1568.7" cy="839.8" r="6.1" fill="#587a93" stroke="#ffffff" stroke-width="1.2"/>
<circle cx="1703.6" cy="721" r="5.7" fill="#adbfcc" stroke="#ffffff" stroke-width="1.2"/>
<circle cx="1502.7" cy="612.1" r="5.7" fill="#adbfcc" stroke="#ffffff" stroke-width="1.2"/>
<circle cx="1527.2" cy="608.4" r="5.7" fill="#adbfcc" stroke="#ffffff" stroke-width="1.2"/>
<circle cx="1536.9" cy="599.8" r="5.7" fill="#adbfcc" stroke="#ffffff" stroke-width="1.2"/>
<circle cx="1550.1" cy="598.4" r="5.7" fill="#adbfcc" stroke="#ffffff" stroke-width="1.2"/>
<circle cx="1513.7" cy="606.9" r="5.4" fill="#adbfcc" stroke="#ffffff" stroke-width="1.2"/>
<circle cx="1521.6" cy="597.2" r="5.4" fill="#adbfcc" stroke="#ffffff" stroke-width="1.2"/>
<circle cx="1652" cy="824" r="5.4" fill="#adbfcc" stroke="#ffffff" stroke-width="1.2"/>
<circle cx="1555.9" cy="841" r="5.4" fill="#adbfcc" stroke="#ffffff" stroke-width="1.2"/>
<circle cx="1543.9" cy="840.1" r="5.4" fill="#adbfcc" stroke="#ffffff" stroke-width="1.2"/>
<circle cx="1706.5" cy="733.2" r="5.4" fill="#adbfcc" stroke="#ffffff" stroke-width="1.2"/>
<circle cx="1641" cy="827.5" r="5.2" fill="#adbfcc" stroke="#ffffff" stroke-width="1.2"/>
<circle cx="1559.4" cy="590.9" r="4.9" fill="#adbfcc" stroke="#ffffff" stroke-width="1.2"/>
<circle cx="1570.2" cy="590" r="4.9" fill="#adbfcc" stroke="#ffffff" stroke-width="1.2"/>
<circle cx="1632.7" cy="835.4" r="4.9" fill="#adbfcc" stroke="#ffffff" stroke-width="1.2"/>
<circle cx="1581" cy="592.3" r="4.5" fill="#adbfcc" stroke="#ffffff" stroke-width="1.2"/>
<circle cx="1591.3" cy="589.7" r="4.5" fill="#587a93" stroke="#ffffff" stroke-width="1.2"/>
<circle cx="1600.6" cy="593.7" r="4.3" fill="#adbfcc" stroke="#ffffff" stroke-width="1.2"/>
<circle cx="1609.9" cy="589.7" r="4.3" fill="#adbfcc" stroke="#ffffff" stroke-width="1.2"/>
<circle cx="1680.8" cy="638.5" r="4.3" fill="#adbfcc" stroke="#ffffff" stroke-width="1.2"/>
<circle cx="1686.1" cy="646.7" r="4.3" fill="#adbfcc" stroke="#ffffff" stroke-width="1.2"/>
<circle cx="1693.6" cy="653.4" r="4.3" fill="#adbfcc" stroke="#ffffff" stroke-width="1.2"/>
<circle cx="1623.4" cy="839.8" r="4.3" fill="#adbfcc" stroke="#ffffff" stroke-width="1.2"/>
<circle cx="1533.4" cy="840.3" r="4.3" fill="#adbfcc" stroke="#ffffff" stroke-width="1.2"/>
<circle cx="1619.6" cy="591.4" r="4" fill="#adbfcc" stroke="#ffffff" stroke-width="1.2"/>
<circle cx="1614.7" cy="844.2" r="4" fill="#adbfcc" stroke="#ffffff" stroke-width="1.2"/>
<circle cx="1524.8" cy="835.9" r="4" fill="#adbfcc" stroke="#ffffff" stroke-width="1.2"/>
<circle cx="1516.7" cy="831.5" r="4" fill="#adbfcc" stroke="#ffffff" stroke-width="1.2"/>
<circle cx="1696.8" cy="762.6" r="4" fill="#adbfcc" stroke="#ffffff" stroke-width="1.2"/>
<circle cx="1462.5" cy="774.8" r="4" fill="#adbfcc" stroke="#ffffff" stroke-width="1.2"/>
<circle cx="1626.6" cy="597.6" r="3.6" fill="#adbfcc" stroke="#ffffff" stroke-width="1.2"/>
<circle cx="1697.7" cy="661.3" r="3.6" fill="#adbfcc" stroke="#ffffff" stroke-width="1.2"/>
<circle cx="1691.4" cy="778.9" r="3.6" fill="#587a93" stroke="#ffffff" stroke-width="1.2"/>
<circle cx="1697.2" cy="771.3" r="3.6" fill="#adbfcc" stroke="#ffffff" stroke-width="1.2"/>
<circle cx="1702.9" cy="667.8" r="3.5" fill="#adbfcc" stroke="#ffffff" stroke-width="1.2"/>
<circle cx="1508.5" cy="828.9" r="3.5" fill="#adbfcc" stroke="#ffffff" stroke-width="1.2"/>
<circle cx="1502.7" cy="824" r="3.5" fill="#adbfcc" stroke="#ffffff" stroke-width="1.2"/>
<circle cx="1705.6" cy="759.9" r="3.5" fill="#adbfcc" stroke="#ffffff" stroke-width="1.2"/>
<circle cx="1707.7" cy="752" r="3.5" fill="#adbfcc" stroke="#ffffff" stroke-width="1.2"/>
<circle cx="1709.1" cy="743.8" r="3.5" fill="#adbfcc" stroke="#ffffff" stroke-width="1.2"/>
<circle cx="1699.3" cy="787.1" r="3.5" fill="#adbfcc" stroke="#ffffff" stroke-width="1.2"/>
<circle cx="1693.3" cy="787.1" r="3.5" fill="#adbfcc" stroke="#ffffff" stroke-width="1.2"/>
<circle cx="1456.1" cy="680.6" r="3.5" fill="#adbfcc" stroke="#ffffff" stroke-width="1.2"/>
<circle cx="1454.9" cy="672.2" r="3.5" fill="#adbfcc" stroke="#ffffff" stroke-width="1.2"/>
<circle cx="1458.1" cy="665.5" r="3.3" fill="#adbfcc" stroke="#ffffff" stroke-width="1.2"/>
<circle cx="1461.6" cy="658.1" r="3.3" fill="#adbfcc" stroke="#ffffff" stroke-width="1.2"/>
<circle cx="1495.8" cy="819.6" r="3.1" fill="#adbfcc" stroke="#ffffff" stroke-width="1.2"/>
<circle cx="1447" cy="681.8" r="3.1" fill="#adbfcc" stroke="#ffffff" stroke-width="1.2"/>
<circle cx="1446.1" cy="688.8" r="3.1" fill="#adbfcc" stroke="#ffffff" stroke-width="1.2"/>
<circle cx="1444.4" cy="695.9" r="3.1" fill="#adbfcc" stroke="#ffffff" stroke-width="1.2"/>
<circle cx="1445.3" cy="703.7" r="3.1" fill="#adbfcc" stroke="#ffffff" stroke-width="1.2"/>
<circle cx="1463.3" cy="651.1" r="2.9" fill="#adbfcc" stroke="#ffffff" stroke-width="1.2"/>
<circle cx="1467.2" cy="645.5" r="2.9" fill="#adbfcc" stroke="#ffffff" stroke-width="1.2"/>
<circle cx="1634.8" cy="596.3" r="2.8" fill="#587a93" stroke="#ffffff" stroke-width="1.2"/>
<circle cx="1641.9" cy="598.1" r="2.8" fill="#adbfcc" stroke="#ffffff" stroke-width="1.2"/>
<circle cx="1647.1" cy="602.8" r="2.8" fill="#adbfcc" stroke="#ffffff" stroke-width="1.2"/>
<circle cx="1651.5" cy="608.6" r="2.8" fill="#adbfcc" stroke="#ffffff" stroke-width="1.2"/>
<circle cx="1658.2" cy="609.8" r="2.6" fill="#adbfcc" stroke="#ffffff" stroke-width="1.2"/>
<circle cx="1663.5" cy="613.7" r="2.6" fill="#adbfcc" stroke="#ffffff" stroke-width="1.2"/>
<circle cx="1472.8" cy="640.9" r="2.6" fill="#adbfcc" stroke="#ffffff" stroke-width="1.2"/>
<circle cx="1666.4" cy="619" r="2.4" fill="#adbfcc" stroke="#ffffff" stroke-width="1.2"/>
<circle cx="1672.1" cy="622.1" r="2.4" fill="#adbfcc" stroke="#ffffff" stroke-width="1.2"/>
<circle cx="1478.6" cy="805" r="2.2" fill="#587a93" stroke="#ffffff" stroke-width="1.2"/>
<circle cx="1483.9" cy="806.8" r="2.2" fill="#adbfcc" stroke="#ffffff" stroke-width="1.2"/>
<circle cx="1486" cy="812.6" r="2.2" fill="#adbfcc" stroke="#ffffff" stroke-width="1.2"/>
<circle cx="1489.7" cy="817" r="2.2" fill="#adbfcc" stroke="#ffffff" stroke-width="1.2"/>
<circle cx="1455.4" cy="754.7" r="2.2" fill="#587a93" stroke="#ffffff" stroke-width="1.2"/>
<circle cx="1674.9" cy="806.4" r="2.2" fill="#adbfcc" stroke="#ffffff" stroke-width="1.2"/>
<circle cx="1677" cy="800.8" r="2.2" fill="#adbfcc" stroke="#ffffff" stroke-width="1.2"/>
<circle cx="1671.7" cy="812.1" r="2.2" fill="#adbfcc" stroke="#ffffff" stroke-width="1.2"/>
<circle cx="1711.7" cy="716.9" r="2.2" fill="#adbfcc" stroke="#ffffff" stroke-width="1.2"/>
<circle cx="1708.6" cy="712" r="2.2" fill="#adbfcc" stroke="#ffffff" stroke-width="1.2"/>
<circle cx="1706.5" cy="701.6" r="2.2" fill="#adbfcc" stroke="#ffffff" stroke-width="1.2"/>
<circle cx="1588.1" cy="847.9" r="5.2" fill="#adbfcc" stroke="#ffffff" stroke-width="1.2"/>
<circle cx="1576.9" cy="848.6" r="5.2" fill="#adbfcc" stroke="#ffffff" stroke-width="1.2"/>
<circle cx="1483.1" cy="669.4" r="5.1" fill="#adbfcc" stroke="#ffffff" stroke-width="1.2"/>
<circle cx="1603.5" cy="820.6" r="5" fill="#adbfcc" stroke="#ffffff" stroke-width="1.2"/>
<circle cx="1639.9" cy="629.5" r="5" fill="#adbfcc" stroke="#ffffff" stroke-width="1.2"/>
<circle cx="1498.5" cy="637.9" r="4.8" fill="#adbfcc" stroke="#ffffff" stroke-width="1.2"/>
<circle cx="1448.8" cy="740.1" r="4.7" fill="#587a93" stroke="#ffffff" stroke-width="1.2"/>
<circle cx="1511.8" cy="801.7" r="4.6" fill="#adbfcc" stroke="#ffffff" stroke-width="1.2"/>
<circle cx="1562.2" cy="848.6" r="4.2" fill="#adbfcc" stroke="#ffffff" stroke-width="1.2"/>
<circle cx="1680.5" cy="677.1" r="4.2" fill="#adbfcc" stroke="#ffffff" stroke-width="1.2"/>
<circle cx="1450.2" cy="750.6" r="4" fill="#adbfcc" stroke="#ffffff" stroke-width="1.2"/>
<circle cx="1469.8" cy="735.9" r="4" fill="#adbfcc" stroke="#ffffff" stroke-width="1.2"/>
<circle cx="1460" cy="714.9" r="4" fill="#adbfcc" stroke="#ffffff" stroke-width="1.2"/>
<circle cx="1542.6" cy="591.7" r="3.9" fill="#adbfcc" stroke="#ffffff" stroke-width="1.2"/>
<circle cx="1601.4" cy="615.5" r="3.7" fill="#adbfcc" stroke="#ffffff" stroke-width="1.2"/>
<circle cx="1705.7" cy="687.6" r="3.6" fill="#adbfcc" stroke="#ffffff" stroke-width="1.2"/>
<circle cx="1670" cy="768.8" r="3.6" fill="#587a93" stroke="#ffffff" stroke-width="1.2"/>
<circle cx="1481.7" cy="628.1" r="3.5" fill="#adbfcc" stroke="#ffffff" stroke-width="1.2"/>
<circle cx="1672.8" cy="775.8" r="3.5" fill="#adbfcc" stroke="#ffffff" stroke-width="1.2"/>
<circle cx="1573.4" cy="831.1" r="3.5" fill="#adbfcc" stroke="#ffffff" stroke-width="1.2"/>
<circle cx="1551" cy="588.9" r="3.4" fill="#adbfcc" stroke="#ffffff" stroke-width="1.2"/>
<circle cx="1452.3" cy="759.7" r="3.3" fill="#adbfcc" stroke="#ffffff" stroke-width="1.2"/>
<circle cx="1698" cy="730.3" r="3.2" fill="#adbfcc" stroke="#ffffff" stroke-width="1.2"/>
<circle cx="1656" cy="798.2" r="3.2" fill="#adbfcc" stroke="#ffffff" stroke-width="1.2"/>
<circle cx="1474.7" cy="635.1" r="3.2" fill="#adbfcc" stroke="#ffffff" stroke-width="1.2"/>
<circle cx="1471.9" cy="798.2" r="3.1" fill="#adbfcc" stroke="#ffffff" stroke-width="1.2"/>
<circle cx="1549.6" cy="847.2" r="3.1" fill="#587a93" stroke="#ffffff" stroke-width="1.2"/>
<circle cx="1548.2" cy="832.5" r="3" fill="#adbfcc" stroke="#ffffff" stroke-width="1.2"/>
<circle cx="1709.2" cy="706.5" r="3" fill="#adbfcc" stroke="#ffffff" stroke-width="1.2"/>
<circle cx="1690.3" cy="706.5" r="2.9" fill="#adbfcc" stroke="#ffffff" stroke-width="1.2"/>
<circle cx="1483.1" cy="782.8" r="2.9" fill="#adbfcc" stroke="#ffffff" stroke-width="1.2"/>
<circle cx="1455.8" cy="770.9" r="2.9" fill="#adbfcc" stroke="#ffffff" stroke-width="1.2"/>
<circle cx="1445.3" cy="723.3" r="2.8" fill="#adbfcc" stroke="#ffffff" stroke-width="1.2"/>
<circle cx="1708.5" cy="696.7" r="2.7" fill="#adbfcc" stroke="#ffffff" stroke-width="1.2"/>
<circle cx="1530" cy="594.5" r="2.6" fill="#adbfcc" stroke="#ffffff" stroke-width="1.2"/>
<circle cx="1616.1" cy="837.4" r="2.6" fill="#adbfcc" stroke="#ffffff" stroke-width="1.2"/>
<circle cx="1657.4" cy="804.5" r="2.6" fill="#adbfcc" stroke="#ffffff" stroke-width="1.2"/>
<circle cx="1577.6" cy="585.4" r="2.6" fill="#adbfcc" stroke="#ffffff" stroke-width="1.2"/>
<circle cx="1465.6" cy="663.1" r="2.6" fill="#adbfcc" stroke="#ffffff" stroke-width="1.2"/>
<circle cx="1522.3" cy="826.9" r="2.6" fill="#adbfcc" stroke="#ffffff" stroke-width="1.2"/>
<circle cx="1578.3" cy="599.4" r="2.5" fill="#adbfcc" stroke="#ffffff" stroke-width="1.2"/>
<circle cx="1555.2" cy="849.3" r="2.5" fill="#adbfcc" stroke="#ffffff" stroke-width="1.2"/>
<circle cx="1445.3" cy="732.4" r="2.5" fill="#adbfcc" stroke="#ffffff" stroke-width="1.2"/>
<circle cx="1682.6" cy="799.6" r="2.5" fill="#adbfcc" stroke="#ffffff" stroke-width="1.2"/>
<circle cx="1569.2" cy="850.7" r="2.5" fill="#adbfcc" stroke="#ffffff" stroke-width="1.2"/>
<circle cx="1477.5" cy="784.2" r="2.4" fill="#adbfcc" stroke="#ffffff" stroke-width="1.2"/>
<circle cx="1583.9" cy="585.4" r="2.4" fill="#adbfcc" stroke="#ffffff" stroke-width="1.2"/>
<circle cx="1502" cy="817.8" r="2.4" fill="#adbfcc" stroke="#ffffff" stroke-width="1.2"/>
<circle cx="1596.5" cy="850" r="2.4" fill="#587a93" stroke="#ffffff" stroke-width="1.2"/>
<circle cx="1693.1" cy="701.6" r="2.4" fill="#adbfcc" stroke="#ffffff" stroke-width="1.2"/>
<circle cx="1450.9" cy="677.1" r="2.3" fill="#adbfcc" stroke="#ffffff" stroke-width="1.2"/>
<circle cx="1633.6" cy="823.4" r="2.3" fill="#adbfcc" stroke="#ffffff" stroke-width="1.2"/>
<circle cx="1597.9" cy="586.8" r="2.3" fill="#adbfcc" stroke="#ffffff" stroke-width="1.2"/>
<circle cx="1695.9" cy="667.3" r="2.3" fill="#adbfcc" stroke="#ffffff" stroke-width="1.2"/>
<circle cx="1648.3" cy="831.1" r="2.3" fill="#adbfcc" stroke="#ffffff" stroke-width="1.2"/>
<circle cx="1658.1" cy="633.7" r="2.3" fill="#adbfcc" stroke="#ffffff" stroke-width="1.2"/>
<circle cx="1640.6" cy="835.3" r="2.3" fill="#adbfcc" stroke="#ffffff" stroke-width="1.2"/>
<circle cx="1608.4" cy="847.9" r="2.2" fill="#adbfcc" stroke="#ffffff" stroke-width="1.2"/>
<circle cx="1663.7" cy="641.4" r="2.2" fill="#adbfcc" stroke="#ffffff" stroke-width="1.2"/>
<circle cx="1622.4" cy="615.5" r="2.2" fill="#587a93" stroke="#ffffff" stroke-width="1.2"/>
<circle cx="1710.6" cy="725.4" r="2.2" fill="#adbfcc" stroke="#ffffff" stroke-width="1.2"/>
<circle cx="1453" cy="766" r="2.2" fill="#adbfcc" stroke="#ffffff" stroke-width="1.2"/>
<circle cx="1535.6" cy="591.7" r="2.1" fill="#587a93" stroke="#ffffff" stroke-width="1.2"/>
<circle cx="1538.4" cy="845.8" r="2.1" fill="#adbfcc" stroke="#ffffff" stroke-width="1.2"/>
<circle cx="1682.6" cy="652.6" r="2.1" fill="#adbfcc" stroke="#ffffff" stroke-width="1.2"/>
<circle cx="1603.5" cy="587.5" r="2.1" fill="#adbfcc" stroke="#ffffff" stroke-width="1.2"/>
<circle cx="1574.8" cy="595.9" r="2.1" fill="#587a93" stroke="#ffffff" stroke-width="1.2"/>
<circle cx="1681.2" cy="755.5" r="2.1" fill="#adbfcc" stroke="#ffffff" stroke-width="1.2"/>
<circle cx="1518.8" cy="838.1" r="2" fill="#adbfcc" stroke="#ffffff" stroke-width="1.2"/>
<circle cx="1472.6" cy="686.2" r="2" fill="#adbfcc" stroke="#ffffff" stroke-width="1.2"/>
<circle cx="1451.6" cy="684.8" r="2" fill="#adbfcc" stroke="#ffffff" stroke-width="1.2"/>
<circle cx="1527.2" cy="813.6" r="2" fill="#adbfcc" stroke="#ffffff" stroke-width="1.2"/>
<circle cx="1552.4" cy="606.4" r="2" fill="#adbfcc" stroke="#ffffff" stroke-width="1.2"/>
<circle cx="1481.7" cy="810.8" r="2" fill="#adbfcc" stroke="#ffffff" stroke-width="1.2"/>
<circle cx="1678.4" cy="630.9" r="2" fill="#adbfcc" stroke="#ffffff" stroke-width="1.2"/>
<circle cx="1702.2" cy="766" r="2" fill="#adbfcc" stroke="#ffffff" stroke-width="1.2"/>
<circle cx="1579" cy="612.7" r="2" fill="#adbfcc" stroke="#ffffff" stroke-width="1.2"/>
<circle cx="1529.3" cy="616.2" r="1.9" fill="#adbfcc" stroke="#ffffff" stroke-width="1.2"/>
<circle cx="1647.6" cy="612" r="1.9" fill="#adbfcc" stroke="#ffffff" stroke-width="1.2"/>
<circle cx="1564.3" cy="585.4" r="1.9" fill="#adbfcc" stroke="#ffffff" stroke-width="1.2"/>
<circle cx="1697.3" cy="777.2" r="1.9" fill="#adbfcc" stroke="#ffffff" stroke-width="1.2"/>
<circle cx="1632.9" cy="828.3" r="1.9" fill="#adbfcc" stroke="#ffffff" stroke-width="1.2"/>
<text x="992.7" y="1065.5" font-size="37.2" text-anchor="middle" transform="rotate(-90 992.7 1065.5) translate(992.7 1065.5) scale(1 1.04) translate(-992.7 -1065.5)">Kappa-CLL</text>
<text x="1177.8" y="935" font-size="29.6" text-anchor="middle" transform="translate(1177.8 935) scale(1 1.04) translate(-1177.8 -935)">CLL396</text>
<text x="1605.5" y="935" font-size="29.6" text-anchor="middle" transform="translate(1605.5 935) scale(1 1.04) translate(-1605.5 -935)">CLL404</text>
<text x="1812" y="1068.5" font-size="29.8" text-anchor="middle" style="fill:#9a9a9a;stroke:#9a9a9a" transform="rotate(-90 1812 1068.5) translate(1812 1068.5) scale(1 1.04) translate(-1812 -1068.5)">IGL repertoire</text>
<circle cx="1136.2" cy="1077.9" r="66.7" fill="#adbfcc" stroke="#ffffff" stroke-width="1.2"/>
<circle cx="1269.5" cy="1077.9" r="65" fill="#adbfcc" stroke="#ffffff" stroke-width="1.2"/>
<circle cx="1117.4" cy="1166.2" r="22.8" fill="#adbfcc" stroke="#ffffff" stroke-width="1.2"/>
<circle cx="1164.3" cy="1175" r="23.7" fill="#adbfcc" stroke="#ffffff" stroke-width="1.2"/>
<circle cx="1204" cy="1143" r="26.2" fill="#adbfcc" stroke="#ffffff" stroke-width="1.2"/>
<circle cx="1250.5" cy="1166.2" r="24.7" fill="#587a93" stroke="#ffffff" stroke-width="1.2"/>
<circle cx="1209.2" cy="1194.7" r="24.3" fill="#adbfcc" stroke="#ffffff" stroke-width="1.2"/>
<circle cx="1289.6" cy="1150.2" r="9.2" fill="#adbfcc" stroke="#ffffff" stroke-width="1.2"/>
<circle cx="1285.4" cy="1169.5" r="9.2" fill="#adbfcc" stroke="#ffffff" stroke-width="1.2"/>
<circle cx="1307.6" cy="1142.8" r="9.2" fill="#587a93" stroke="#ffffff" stroke-width="1.2"/>
<circle cx="1324.1" cy="1130.8" r="9.8" fill="#adbfcc" stroke="#ffffff" stroke-width="1.2"/>
<circle cx="1336.7" cy="1113.4" r="10.2" fill="#adbfcc" stroke="#ffffff" stroke-width="1.2"/>
<circle cx="1346" cy="1092.1" r="11.7" fill="#adbfcc" stroke="#ffffff" stroke-width="1.2"/>
<circle cx="1346.8" cy="1067.3" r="12.1" fill="#adbfcc" stroke="#ffffff" stroke-width="1.2"/>
<circle cx="1340" cy="1041.1" r="13.7" fill="#adbfcc" stroke="#ffffff" stroke-width="1.2"/>
<circle cx="1323.1" cy="1017.5" r="14.4" fill="#adbfcc" stroke="#ffffff" stroke-width="1.2"/>
<circle cx="1297" cy="1001.6" r="14.6" fill="#adbfcc" stroke="#ffffff" stroke-width="1.2"/>
<circle cx="1266.4" cy="996.2" r="15" fill="#adbfcc" stroke="#ffffff" stroke-width="1.2"/>
<circle cx="1234" cy="992.9" r="16" fill="#adbfcc" stroke="#ffffff" stroke-width="1.2"/>
<circle cx="1201.7" cy="977.8" r="17.5" fill="#adbfcc" stroke="#ffffff" stroke-width="1.2"/>
<circle cx="1168.2" cy="996.2" r="19.3" fill="#587a93" stroke="#ffffff" stroke-width="1.2"/>
<circle cx="1204" cy="1018.5" r="21.8" fill="#adbfcc" stroke="#ffffff" stroke-width="1.2"/>
<circle cx="1123.2" cy="1005.1" r="5.7" fill="#adbfcc" stroke="#ffffff" stroke-width="1.2"/>
<circle cx="1110.6" cy="1008.2" r="6.3" fill="#adbfcc" stroke="#ffffff" stroke-width="1.2"/>
<circle cx="1098.4" cy="1014.2" r="6.3" fill="#adbfcc" stroke="#ffffff" stroke-width="1.2"/>
<circle cx="1087.8" cy="1021.7" r="6.3" fill="#adbfcc" stroke="#ffffff" stroke-width="1.2"/>
<circle cx="1078.1" cy="1031.6" r="6.3" fill="#adbfcc" stroke="#ffffff" stroke-width="1.2"/>
<circle cx="1070.3" cy="1043.1" r="6.7" fill="#adbfcc" stroke="#ffffff" stroke-width="1.2"/>
<circle cx="1064.5" cy="1056.6" r="6.9" fill="#adbfcc" stroke="#ffffff" stroke-width="1.2"/>
<circle cx="1061.6" cy="1071.7" r="7.3" fill="#adbfcc" stroke="#ffffff" stroke-width="1.2"/>
<circle cx="1062" cy="1087.2" r="7.3" fill="#adbfcc" stroke="#ffffff" stroke-width="1.2"/>
<circle cx="1065.1" cy="1102.7" r="7.3" fill="#adbfcc" stroke="#ffffff" stroke-width="1.2"/>
<circle cx="1071.9" cy="1117.2" r="7.3" fill="#adbfcc" stroke="#ffffff" stroke-width="1.2"/>
<circle cx="1082" cy="1130.8" r="7.8" fill="#adbfcc" stroke="#ffffff" stroke-width="1.2"/>
<circle cx="1095.5" cy="1142.4" r="8.6" fill="#adbfcc" stroke="#ffffff" stroke-width="1.2"/>
<circle cx="1133.7" cy="991.3" r="3" fill="#adbfcc" stroke="#ffffff" stroke-width="1.2"/>
<circle cx="1129" cy="996.8" r="3" fill="#adbfcc" stroke="#ffffff" stroke-width="1.2"/>
<circle cx="1142.6" cy="994.6" r="5.3" fill="#adbfcc" stroke="#ffffff" stroke-width="1.2"/>
<circle cx="1135.8" cy="1003.9" r="5.7" fill="#adbfcc" stroke="#ffffff" stroke-width="1.2"/>
<circle cx="1146.1" cy="983.6" r="5.3" fill="#adbfcc" stroke="#ffffff" stroke-width="1.2"/>
<circle cx="1153.6" cy="974.9" r="5.3" fill="#adbfcc" stroke="#ffffff" stroke-width="1.2"/>
<circle cx="1164.3" cy="971" r="5.3" fill="#adbfcc" stroke="#ffffff" stroke-width="1.2"/>
<circle cx="1175.5" cy="972" r="5.3" fill="#adbfcc" stroke="#ffffff" stroke-width="1.2"/>
<circle cx="1182.9" cy="963.6" r="4.7" fill="#adbfcc" stroke="#ffffff" stroke-width="1.2"/>
<circle cx="1190.6" cy="958.4" r="3.8" fill="#adbfcc" stroke="#ffffff" stroke-width="1.2"/>
<circle cx="1198.6" cy="955.5" r="3.8" fill="#adbfcc" stroke="#ffffff" stroke-width="1.2"/>
<circle cx="1206.5" cy="956.1" r="3.4" fill="#adbfcc" stroke="#ffffff" stroke-width="1.2"/>
<circle cx="1213.9" cy="959" r="3.4" fill="#adbfcc" stroke="#ffffff" stroke-width="1.2"/>
<circle cx="1219.7" cy="964.6" r="3.4" fill="#adbfcc" stroke="#ffffff" stroke-width="1.2"/>
<circle cx="1227.2" cy="963.2" r="3.4" fill="#adbfcc" stroke="#ffffff" stroke-width="1.2"/>
<circle cx="1224.9" cy="972.3" r="4.7" fill="#adbfcc" stroke="#ffffff" stroke-width="1.2"/>
<circle cx="1235.4" cy="970.6" r="4.7" fill="#adbfcc" stroke="#ffffff" stroke-width="1.2"/>
<circle cx="1244.9" cy="973.9" r="4.4" fill="#adbfcc" stroke="#ffffff" stroke-width="1.2"/>
<circle cx="1251.8" cy="980.7" r="4" fill="#adbfcc" stroke="#ffffff" stroke-width="1.2"/>
<circle cx="1260.2" cy="977.4" r="3.6" fill="#adbfcc" stroke="#ffffff" stroke-width="1.2"/>
<circle cx="1260.2" cy="1193.8" r="3" fill="#adbfcc" stroke="#ffffff" stroke-width="1.2"/>
<circle cx="1266.9" cy="1189.9" r="3.2" fill="#adbfcc" stroke="#ffffff" stroke-width="1.2"/>
<circle cx="1272.4" cy="1185" r="3.2" fill="#adbfcc" stroke="#ffffff" stroke-width="1.2"/>
<circle cx="1276.2" cy="1179.2" r="3.2" fill="#adbfcc" stroke="#ffffff" stroke-width="1.2"/>
<circle cx="1550" cy="1089.8" r="61.7" fill="#adbfcc" stroke="#ffffff" stroke-width="1.2"/>
<circle cx="1620.8" cy="1018.4" r="37.3" fill="#adbfcc" stroke="#ffffff" stroke-width="1.2"/>
<circle cx="1652.6" cy="1089.8" r="39" fill="#adbfcc" stroke="#ffffff" stroke-width="1.2"/>
<circle cx="1620.8" cy="1161.8" r="37.3" fill="#adbfcc" stroke="#ffffff" stroke-width="1.2"/>
<circle cx="1689.4" cy="1027.5" r="31.6" fill="#adbfcc" stroke="#ffffff" stroke-width="1.2"/>
<circle cx="1718.9" cy="1078.5" r="27.1" fill="#adbfcc" stroke="#ffffff" stroke-width="1.2"/>
<circle cx="1703.6" cy="1126.1" r="22" fill="#adbfcc" stroke="#ffffff" stroke-width="1.2"/>
<circle cx="1680.9" cy="1164.6" r="21.4" fill="#587a93" stroke="#ffffff" stroke-width="1.2"/>
<circle cx="1563.1" cy="1170.3" r="19.2" fill="#adbfcc" stroke="#ffffff" stroke-width="1.2"/>
<circle cx="1523.4" cy="1167.5" r="19.7" fill="#adbfcc" stroke="#ffffff" stroke-width="1.2"/>
<circle cx="1490.5" cy="1145.9" r="18.6" fill="#adbfcc" stroke="#ffffff" stroke-width="1.2"/>
<circle cx="1472.4" cy="1112.5" r="17.5" fill="#adbfcc" stroke="#ffffff" stroke-width="1.2"/>
<circle cx="1470.7" cy="1076.8" r="17.5" fill="#adbfcc" stroke="#ffffff" stroke-width="1.2"/>
<circle cx="1484.3" cy="1044.5" r="16.3" fill="#adbfcc" stroke="#ffffff" stroke-width="1.2"/>
<circle cx="1509.2" cy="1021.8" r="16.3" fill="#adbfcc" stroke="#ffffff" stroke-width="1.2"/>
<circle cx="1541.5" cy="1011.6" r="15.8" fill="#587a93" stroke="#ffffff" stroke-width="1.2"/>
<circle cx="1571.6" cy="999.2" r="14.6" fill="#adbfcc" stroke="#ffffff" stroke-width="1.2"/>
<circle cx="1590.3" cy="975.4" r="14.6" fill="#adbfcc" stroke="#ffffff" stroke-width="1.2"/>
<circle cx="1618" cy="966.3" r="14.1" fill="#adbfcc" stroke="#ffffff" stroke-width="1.2"/>
<circle cx="1645.2" cy="973.7" r="13.5" fill="#adbfcc" stroke="#ffffff" stroke-width="1.2"/>
<circle cx="1663.3" cy="991.8" r="11.8" fill="#adbfcc" stroke="#ffffff" stroke-width="1.2"/>
<circle cx="1684.9" cy="985" r="10.7" fill="#adbfcc" stroke="#ffffff" stroke-width="1.2"/>
<circle cx="1700.7" cy="991.8" r="5" fill="#587a93" stroke="#ffffff" stroke-width="1.2"/>
<circle cx="1711.5" cy="998.6" r="5" fill="#adbfcc" stroke="#ffffff" stroke-width="1.2"/>
<circle cx="1718.9" cy="1006" r="5" fill="#adbfcc" stroke="#ffffff" stroke-width="1.2"/>
<circle cx="1724.5" cy="1016.2" r="5" fill="#adbfcc" stroke="#ffffff" stroke-width="1.2"/>
<circle cx="1725.7" cy="1027.5" r="4.4" fill="#adbfcc" stroke="#ffffff" stroke-width="1.2"/>
<circle cx="1724.5" cy="1037.1" r="4.4" fill="#adbfcc" stroke="#ffffff" stroke-width="1.2"/>
<circle cx="1721.1" cy="1045.6" r="3.9" fill="#adbfcc" stroke="#ffffff" stroke-width="1.2"/>
<circle cx="1730.2" cy="1112.5" r="7.3" fill="#adbfcc" stroke="#ffffff" stroke-width="1.2"/>
<circle cx="1733" cy="1127.8" r="6.7" fill="#adbfcc" stroke="#ffffff" stroke-width="1.2"/>
<circle cx="1730.2" cy="1140.8" r="6.1" fill="#adbfcc" stroke="#ffffff" stroke-width="1.2"/>
<circle cx="1718.9" cy="1150.5" r="6.1" fill="#adbfcc" stroke="#ffffff" stroke-width="1.2"/>
<circle cx="1707.5" cy="1155" r="5.6" fill="#adbfcc" stroke="#ffffff" stroke-width="1.2"/>
<circle cx="1708.7" cy="1166.3" r="5.6" fill="#adbfcc" stroke="#ffffff" stroke-width="1.2"/>
<circle cx="1659.4" cy="1191.2" r="10.7" fill="#adbfcc" stroke="#ffffff" stroke-width="1.2"/>
<circle cx="1642.4" cy="1204.3" r="10.1" fill="#adbfcc" stroke="#ffffff" stroke-width="1.2"/>
<circle cx="1622.5" cy="1209.9" r="9.5" fill="#587a93" stroke="#ffffff" stroke-width="1.2"/>
<circle cx="1602.7" cy="1206" r="9.5" fill="#adbfcc" stroke="#ffffff" stroke-width="1.2"/>
<circle cx="1585.7" cy="1194.6" r="9.5" fill="#adbfcc" stroke="#ffffff" stroke-width="1.2"/>
<circle cx="1567.6" cy="1199.7" r="8.4" fill="#adbfcc" stroke="#ffffff" stroke-width="1.2"/>
<circle cx="1550.6" cy="1196.9" r="8.4" fill="#adbfcc" stroke="#ffffff" stroke-width="1.2"/>
<circle cx="1534.7" cy="1191.8" r="7.3" fill="#adbfcc" stroke="#ffffff" stroke-width="1.2"/>
<text x="59.5" y="1876.6" font-size="38" text-anchor="middle" transform="rotate(-90 59.5 1876.6) translate(59.5 1876.6) scale(1 1.04) translate(-59.5 -1876.6)">CLL expressing IGLV3-21<tspan font-size="23.6" dy="-11">R110</tspan></text>
<text x="1829" y="1880" font-size="29.8" text-anchor="middle" style="fill:#9a9a9a;stroke:#9a9a9a" transform="rotate(-90 1829 1880) translate(1829 1880) scale(1 1.04) translate(-1829 -1880)">IGL repertoire</text>
<path d="M94.7,1302.9 A203.7,203.7 0 0 1 94.7,1613.4 Z" fill="url(#gp)"/>
<text x="123.5" y="1458.7" font-size="23" text-anchor="middle" transform="rotate(-90 123.5 1458.7) translate(123.5 1458.7) scale(1 1.04) translate(-123.5 -1458.7)">dominant CLL clone</text>
<text x="147.7" y="1467.2" font-size="28" text-anchor="middle" transform="translate(147.7 1467.2) scale(1 1.04) translate(-147.7 -1467.2)">1</text>
<polygon points="189.4,1316.8 376,1316.8 438.6,1392 179.6,1392" fill="url(#gt)"/>
<text x="197.3" y="1344.7" font-size="29.9" transform="translate(197.3 1344.7) scale(1 1.04) translate(-197.3 -1344.7)">0.043% of rep</text>
<text x="197.3" y="1309" font-size="29" transform="translate(197.3 1309) scale(1 1.04) translate(-197.3 -1309)">CLL001</text>
<path d="M526.1,1302.9 A203.7,203.7 0 0 1 526.1,1613.4 Z" fill="url(#gp)"/>
<text x="554.9" y="1458.7" font-size="23" text-anchor="middle" transform="rotate(-90 554.9 1458.7) translate(554.9 1458.7) scale(1 1.04) translate(-554.9 -1458.7)">dominant CLL clone</text>
<text x="579.1" y="1467.2" font-size="28" text-anchor="middle" transform="translate(579.1 1467.2) scale(1 1.04) translate(-579.1 -1467.2)">1</text>
<polygon points="624.1,1316.8 811,1316.8 874.2,1392 613.8,1392" fill="url(#gt)"/>
<text x="629" y="1344.7" font-size="29.9" transform="translate(629 1344.7) scale(1 1.04) translate(-629 -1344.7)">0.187% of rep</text>
<text x="629" y="1309" font-size="29" transform="translate(629 1309) scale(1 1.04) translate(-629 -1309)">CLL011</text>
<path d="M978,1302.9 A203.7,203.7 0 0 1 978,1613.4 Z" fill="url(#gp)"/>
<text x="1006.8" y="1458.7" font-size="23" text-anchor="middle" transform="rotate(-90 1006.8 1458.7) translate(1006.8 1458.7) scale(1 1.04) translate(-1006.8 -1458.7)">dominant CLL clone</text>
<text x="1031" y="1467.2" font-size="28" text-anchor="middle" transform="translate(1031 1467.2) scale(1 1.04) translate(-1031 -1467.2)">1</text>
<text x="1086.1" y="1309" font-size="29" transform="translate(1086.1 1309) scale(1 1.04) translate(-1086.1 -1309)">CLL054</text>
<path d="M1407.1,1302.9 A203.7,203.7 0 0 1 1407.1,1613.4 Z" fill="url(#gp)"/>
<text x="1435.9" y="1458.7" font-size="23" text-anchor="middle" transform="rotate(-90 1435.9 1458.7) translate(1435.9 1458.7) scale(1 1.04) translate(-1435.9 -1458.7)">dominant CLL clone</text>
<text x="1460.1" y="1467.2" font-size="28" text-anchor="middle" transform="translate(1460.1 1467.2) scale(1 1.04) translate(-1460.1 -1467.2)">1</text>
<polygon points="1510.2,1316.8 1697.6,1316.8 1760.8,1392 1500.4,1392" fill="url(#gt)"/>
<text x="1517.5" y="1344.7" font-size="29.9" transform="translate(1517.5 1344.7) scale(1 1.04) translate(-1517.5 -1344.7)">0.128% of rep</text>
<text x="1517.5" y="1309" font-size="29" transform="translate(1517.5 1309) scale(1 1.04) translate(-1517.5 -1309)">CLL062</text>
<path d="M94.7,1691.5 A203.7,203.7 0 0 1 94.7,2002 Z" fill="url(#gp)"/>
<text x="123.5" y="1852.8" font-size="23" text-anchor="middle" transform="rotate(-90 123.5 1852.8) translate(123.5 1852.8) scale(1 1.04) translate(-123.5 -1852.8)">dominant CLL clone</text>
<text x="147.7" y="1862.8" font-size="28" text-anchor="middle" transform="translate(147.7 1862.8) scale(1 1.04) translate(-147.7 -1862.8)">1</text>
<polygon points="189.4,1709.5 376,1709.5 438.6,1784.5 179.6,1784.5" fill="url(#gt)"/>
<text x="197.3" y="1734.7" font-size="29.9" transform="translate(197.3 1734.7) scale(1 1.04) translate(-197.3 -1734.7)">0.024% of rep</text>
<text x="197.3" y="1699" font-size="29" transform="translate(197.3 1699) scale(1 1.04) translate(-197.3 -1699)">CLL162</text>
<path d="M526.1,1691.5 A203.7,203.7 0 0 1 526.1,2002 Z" fill="url(#gp)"/>
<text x="554.9" y="1852.8" font-size="23" text-anchor="middle" transform="rotate(-90 554.9 1852.8) translate(554.9 1852.8) scale(1 1.04) translate(-554.9 -1852.8)">dominant CLL clone</text>
<text x="579.1" y="1862.8" font-size="28" text-anchor="middle" transform="translate(579.1 1862.8) scale(1 1.04) translate(-579.1 -1862.8)">1</text>
<polygon points="624.1,1709.5 811,1709.5 874.2,1784.5 613.8,1784.5" fill="url(#gt)"/>
<text x="629" y="1734.7" font-size="29.9" transform="translate(629 1734.7) scale(1 1.04) translate(-629 -1734.7)">5.288% of rep</text>
<text x="629" y="1699" font-size="29" transform="translate(629 1699) scale(1 1.04) translate(-629 -1699)">CLL306</text>
<path d="M978,1691.5 A203.7,203.7 0 0 1 978,2002 Z" fill="url(#gp)"/>
<text x="1006.8" y="1852.8" font-size="23" text-anchor="middle" transform="rotate(-90 1006.8 1852.8) translate(1006.8 1852.8) scale(1 1.04) translate(-1006.8 -1852.8)">dominant CLL clone</text>
<text x="1031" y="1862.8" font-size="28" text-anchor="middle" transform="translate(1031 1862.8) scale(1 1.04) translate(-1031 -1862.8)">1</text>
<polygon points="1079,1709.5 1265.6,1709.5 1331.6,1784.5 1069.9,1784.5" fill="url(#gt)"/>
<text x="1086.1" y="1734.7" font-size="29.9" transform="translate(1086.1 1734.7) scale(1 1.04) translate(-1086.1 -1734.7)">27.440% of rep</text>
<text x="1086.1" y="1699" font-size="29" transform="translate(1086.1 1699) scale(1 1.04) translate(-1086.1 -1699)">CLL350</text>
<path d="M1407.1,1691.5 A203.7,203.7 0 0 1 1407.1,2002 Z" fill="url(#gp)"/>
<text x="1435.9" y="1852.8" font-size="23" text-anchor="middle" transform="rotate(-90 1435.9 1852.8) translate(1435.9 1852.8) scale(1 1.04) translate(-1435.9 -1852.8)">dominant CLL clone</text>
<text x="1460.1" y="1862.8" font-size="28" text-anchor="middle" transform="translate(1460.1 1862.8) scale(1 1.04) translate(-1460.1 -1862.8)">1</text>
<polygon points="1510.2,1709.5 1697.6,1709.5 1760.8,1784.5 1500.4,1784.5" fill="url(#gt)"/>
<text x="1517.5" y="1734.7" font-size="29.9" transform="translate(1517.5 1734.7) scale(1 1.04) translate(-1517.5 -1734.7)">0.030% of rep</text>
<text x="1517.5" y="1699" font-size="29" transform="translate(1517.5 1699) scale(1 1.04) translate(-1517.5 -1699)">CLL362</text>
<path d="M94.7,2092.9 A203.7,203.7 0 0 1 94.7,2403.4 Z" fill="url(#gp)"/>
<text x="123.5" y="2254.2" font-size="23" text-anchor="middle" transform="rotate(-90 123.5 2254.2) translate(123.5 2254.2) scale(1 1.04) translate(-123.5 -2254.2)">dominant CLL clone</text>
<text x="147.7" y="2259.7" font-size="28" text-anchor="middle" transform="translate(147.7 2259.7) scale(1 1.04) translate(-147.7 -2259.7)">1</text>
<polygon points="189.4,2105.3 376,2105.3 438.6,2179.1 179.6,2179.1" fill="url(#gt)"/>
<text x="197.3" y="2131.8" font-size="29.9" transform="translate(197.3 2131.8) scale(1 1.04) translate(-197.3 -2131.8)">9.329% of rep</text>
<text x="197.3" y="2097" font-size="29" transform="translate(197.3 2097) scale(1 1.04) translate(-197.3 -2097)">CLL374</text>
<path d="M526.1,2092.9 A203.7,203.7 0 0 1 526.1,2403.4 Z" fill="url(#gp)"/>
<text x="554.9" y="2254.2" font-size="23" text-anchor="middle" transform="rotate(-90 554.9 2254.2) translate(554.9 2254.2) scale(1 1.04) translate(-554.9 -2254.2)">dominant CLL clone</text>
<text x="579.1" y="2259.7" font-size="28" text-anchor="middle" transform="translate(579.1 2259.7) scale(1 1.04) translate(-579.1 -2259.7)">1</text>
<polygon points="624.1,2105.3 811,2105.3 874.2,2179.1 613.8,2179.1" fill="url(#gt)"/>
<text x="629" y="2131.8" font-size="29.9" transform="translate(629 2131.8) scale(1 1.04) translate(-629 -2131.8)">0.456% of rep</text>
<text x="629" y="2097" font-size="29" transform="translate(629 2097) scale(1 1.04) translate(-629 -2097)">CLL381</text>
<path d="M978,2092.9 A203.7,203.7 0 0 1 978,2403.4 Z" fill="url(#gp)"/>
<text x="1006.8" y="2254.2" font-size="23" text-anchor="middle" transform="rotate(-90 1006.8 2254.2) translate(1006.8 2254.2) scale(1 1.04) translate(-1006.8 -2254.2)">dominant CLL clone</text>
<text x="1031" y="2259.7" font-size="28" text-anchor="middle" transform="translate(1031 2259.7) scale(1 1.04) translate(-1031 -2259.7)">1</text>
<polygon points="1079,2105.3 1265.6,2105.3 1331.6,2179.1 1069.9,2179.1" fill="url(#gt)"/>
<text x="1086.1" y="2131.8" font-size="29.9" transform="translate(1086.1 2131.8) scale(1 1.04) translate(-1086.1 -2131.8)">15.521% of rep</text>
<text x="1086.1" y="2097" font-size="29" transform="translate(1086.1 2097) scale(1 1.04) translate(-1086.1 -2097)">CLL385</text>
<path d="M1407.1,2092.9 A203.7,203.7 0 0 1 1407.1,2403.4 Z" fill="url(#gp)"/>
<text x="1435.9" y="2254.2" font-size="23" text-anchor="middle" transform="rotate(-90 1435.9 2254.2) translate(1435.9 2254.2) scale(1 1.04) translate(-1435.9 -2254.2)">dominant CLL clone</text>
<text x="1460.1" y="2259.7" font-size="28" text-anchor="middle" transform="translate(1460.1 2259.7) scale(1 1.04) translate(-1460.1 -2259.7)">1</text>
<polygon points="1510.2,2105.3 1697.6,2105.3 1760.8,2179.1 1500.4,2179.1" fill="url(#gt)"/>
<text x="1517.5" y="2131.8" font-size="29.9" transform="translate(1517.5 2131.8) scale(1 1.04) translate(-1517.5 -2131.8)">0.374% of rep</text>
<text x="1517.5" y="2097" font-size="29" transform="translate(1517.5 2097) scale(1 1.04) translate(-1517.5 -2097)">CLL401</text>
<circle cx="288.9" cy="1470.2" r="109.5" fill="#adbfcc" stroke="#fff" stroke-width="1"/>
<circle cx="289.5" cy="1872.5" r="109.4" fill="#adbfcc" stroke="#fff" stroke-width="1"/>
<circle cx="679.2" cy="1472.8" r="61.8" fill="#adbfcc" stroke="#ffffff" stroke-width="1.2"/>
<circle cx="796.2" cy="1472.8" r="53.4" fill="#adbfcc" stroke="#ffffff" stroke-width="1.2"/>
<circle cx="744.1" cy="1404" r="31.1" fill="#adbfcc" stroke="#ffffff" stroke-width="1.2"/>
<circle cx="800.4" cy="1393.4" r="24.2" fill="#adbfcc" stroke="#ffffff" stroke-width="1.2"/>
<circle cx="845.8" cy="1412.1" r="23.3" fill="#587a93" stroke="#ffffff" stroke-width="1.2"/>
<circle cx="868" cy="1451.1" r="20.5" fill="#adbfcc" stroke="#ffffff" stroke-width="1.2"/>
<circle cx="865.8" cy="1490" r="16.7" fill="#adbfcc" stroke="#ffffff" stroke-width="1.2"/>
<circle cx="744.1" cy="1545.2" r="33.9" fill="#adbfcc" stroke="#ffffff" stroke-width="1.2"/>
<text x="1096.5" y="1459.1" font-size="29.7" transform="translate(1096.5 1459.1) scale(1 1.04) translate(-1096.5 -1459.1)">no</text>
<text x="1096.5" y="1494.5" font-size="29.7" transform="translate(1096.5 1494.5) scale(1 1.04) translate(-1096.5 -1494.5)">Bystander</text>
<circle cx="1551.9" cy="1424.6" r="59.5" fill="#adbfcc" stroke="#ffffff" stroke-width="1.2"/>
<circle cx="1636.9" cy="1425.4" r="22.8" fill="#934761" stroke="#ffffff" stroke-width="1.2"/>
<circle cx="1711.2" cy="1433" r="47.3" fill="#adbfcc" stroke="#ffffff" stroke-width="1.2"/>
<circle cx="1635.5" cy="1505.4" r="55.4" fill="#adbfcc" stroke="#ffffff" stroke-width="1.2"/>
<circle cx="1550.6" cy="1513.7" r="28.3" fill="#adbfcc" stroke="#ffffff" stroke-width="1.2"/>
<circle cx="729.8" cy="1860.1" r="109.7" fill="#934761" stroke="#ffffff" stroke-width="1.2"/>
<circle cx="844.4" cy="1851" r="3.8" fill="#adbfcc" stroke="#ffffff" stroke-width="1.2"/>
<circle cx="845.5" cy="1860" r="4.1" fill="#adbfcc" stroke="#ffffff" stroke-width="1.2"/>
<circle cx="844.4" cy="1869.2" r="3.8" fill="#adbfcc" stroke="#ffffff" stroke-width="1.2"/>
<text x="731.6" y="1860" font-size="28" text-anchor="middle" transform="translate(731.6 1860) scale(1 1.04) translate(-731.6 -1860)">2</text>
<circle cx="1161.8" cy="1872.5" r="29.7" fill="#adbfcc" stroke="#ffffff" stroke-width="1.2"/>
<circle cx="1220.2" cy="1871.1" r="27.5" fill="#adbfcc" stroke="#ffffff" stroke-width="1.2"/>
<circle cx="1193.2" cy="1921.3" r="26.9" fill="#adbfcc" stroke="#ffffff" stroke-width="1.2"/>
<circle cx="1193.2" cy="1824.3" r="26.1" fill="#587a93" stroke="#ffffff" stroke-width="1.2"/>
<circle cx="1246.7" cy="1824.3" r="25.5" fill="#adbfcc" stroke="#ffffff" stroke-width="1.2"/>
<circle cx="1273.7" cy="1868.9" r="24.7" fill="#adbfcc" stroke="#ffffff" stroke-width="1.2"/>
<circle cx="1252.3" cy="1912.3" r="22.8" fill="#adbfcc" stroke="#ffffff" stroke-width="1.2"/>
<circle cx="1231.4" cy="1953.8" r="22.2" fill="#adbfcc" stroke="#ffffff" stroke-width="1.2"/>
<circle cx="1143.7" cy="1921.8" r="21.4" fill="#adbfcc" stroke="#ffffff" stroke-width="1.2"/>
<circle cx="1114.4" cy="1891.5" r="19.4" fill="#adbfcc" stroke="#ffffff" stroke-width="1.2"/>
<circle cx="1115.8" cy="1851.6" r="19.1" fill="#adbfcc" stroke="#ffffff" stroke-width="1.2"/>
<circle cx="1144.5" cy="1825.7" r="17.7" fill="#adbfcc" stroke="#ffffff" stroke-width="1.2"/>
<circle cx="1160.4" cy="1794" r="16.6" fill="#adbfcc" stroke="#ffffff" stroke-width="1.2"/>
<circle cx="1191.8" cy="1778.4" r="16.4" fill="#adbfcc" stroke="#ffffff" stroke-width="1.2"/>
<circle cx="1225.3" cy="1786.8" r="16.1" fill="#587a93" stroke="#ffffff" stroke-width="1.2"/>
<circle cx="1194.6" cy="1963" r="14.4" fill="#adbfcc" stroke="#ffffff" stroke-width="1.2"/>
<circle cx="1166.5" cy="1953.8" r="13.8" fill="#adbfcc" stroke="#ffffff" stroke-width="1.2"/>
<circle cx="1137.5" cy="1956.9" r="13.8" fill="#587a93" stroke="#ffffff" stroke-width="1.2"/>
<circle cx="1112.2" cy="1817.7" r="13.6" fill="#adbfcc" stroke="#ffffff" stroke-width="1.2"/>
<circle cx="1129.2" cy="1794.6" r="13" fill="#adbfcc" stroke="#ffffff" stroke-width="1.2"/>
<circle cx="1115" cy="1941.3" r="12.5" fill="#adbfcc" stroke="#ffffff" stroke-width="1.2"/>
<circle cx="1100.5" cy="1919.9" r="11.6" fill="#adbfcc" stroke="#ffffff" stroke-width="1.2"/>
<circle cx="1253.7" cy="1787" r="11.1" fill="#587a93" stroke="#ffffff" stroke-width="1.2"/>
<circle cx="1273.7" cy="1798.2" r="10.2" fill="#adbfcc" stroke="#ffffff" stroke-width="1.2"/>
<circle cx="1284.3" cy="1902.3" r="9.7" fill="#adbfcc" stroke="#ffffff" stroke-width="1.2"/>
<circle cx="1284.3" cy="1922.1" r="9.7" fill="#adbfcc" stroke="#ffffff" stroke-width="1.2"/>
<circle cx="1281.5" cy="1817.7" r="9.7" fill="#adbfcc" stroke="#ffffff" stroke-width="1.2"/>
<circle cx="1273.2" cy="1938.8" r="9.4" fill="#adbfcc" stroke="#ffffff" stroke-width="1.2"/>
<circle cx="1264" cy="1956.9" r="9.4" fill="#adbfcc" stroke="#ffffff" stroke-width="1.2"/>
<circle cx="1290.7" cy="1837.2" r="9.4" fill="#adbfcc" stroke="#ffffff" stroke-width="1.2"/>
<circle cx="1092.1" cy="1871.1" r="9.4" fill="#adbfcc" stroke="#ffffff" stroke-width="1.2"/>
<circle cx="1086.6" cy="1852.5" r="8.8" fill="#adbfcc" stroke="#ffffff" stroke-width="1.2"/>
<circle cx="1091.6" cy="1834.9" r="8.8" fill="#adbfcc" stroke="#ffffff" stroke-width="1.2"/>
<circle cx="1088.8" cy="1816.8" r="8.3" fill="#adbfcc" stroke="#ffffff" stroke-width="1.2"/>
<circle cx="1082.4" cy="1886.4" r="8.3" fill="#adbfcc" stroke="#ffffff" stroke-width="1.2"/>
<circle cx="1088" cy="1903.2" r="8.3" fill="#adbfcc" stroke="#ffffff" stroke-width="1.2"/>
<circle cx="1303" cy="1851.6" r="7.4" fill="#adbfcc" stroke="#ffffff" stroke-width="1.2"/>
<circle cx="1307.1" cy="1867" r="7.4" fill="#587a93" stroke="#ffffff" stroke-width="1.2"/>
<circle cx="1303.8" cy="1882.3" r="6.9" fill="#adbfcc" stroke="#ffffff" stroke-width="1.2"/>
<circle cx="1301.8" cy="1897.6" r="6.9" fill="#587a93" stroke="#ffffff" stroke-width="1.2"/>
<circle cx="1168.2" cy="1770.9" r="6" fill="#adbfcc" stroke="#ffffff" stroke-width="1.2"/>
<circle cx="1154" cy="1770.3" r="6" fill="#adbfcc" stroke="#ffffff" stroke-width="1.2"/>
<circle cx="1141.7" cy="1777.3" r="6" fill="#adbfcc" stroke="#ffffff" stroke-width="1.2"/>
<circle cx="1177.1" cy="1760.3" r="5.5" fill="#adbfcc" stroke="#ffffff" stroke-width="1.2"/>
<circle cx="1149.2" cy="1974.2" r="5.5" fill="#adbfcc" stroke="#ffffff" stroke-width="1.2"/>
<circle cx="1161.8" cy="1974.2" r="5.5" fill="#adbfcc" stroke="#ffffff" stroke-width="1.2"/>
<circle cx="1175.1" cy="1972.8" r="5.5" fill="#adbfcc" stroke="#ffffff" stroke-width="1.2"/>
<circle cx="1222.2" cy="1981.7" r="5.5" fill="#adbfcc" stroke="#ffffff" stroke-width="1.2"/>
<circle cx="1235" cy="1983.1" r="5.5" fill="#adbfcc" stroke="#ffffff" stroke-width="1.2"/>
<circle cx="1246.1" cy="1978.3" r="5.5" fill="#adbfcc" stroke="#ffffff" stroke-width="1.2"/>
<circle cx="1255.6" cy="1970.8" r="5.5" fill="#adbfcc" stroke="#ffffff" stroke-width="1.2"/>
<circle cx="1212.7" cy="1768.1" r="5.2" fill="#adbfcc" stroke="#ffffff" stroke-width="1.2"/>
<circle cx="1222.5" cy="1763.9" r="5.2" fill="#adbfcc" stroke="#ffffff" stroke-width="1.2"/>
<circle cx="1211.1" cy="1978.3" r="5.2" fill="#adbfcc" stroke="#ffffff" stroke-width="1.2"/>
<circle cx="1234.2" cy="1766.1" r="4.7" fill="#adbfcc" stroke="#ffffff" stroke-width="1.2"/>
<circle cx="1244.5" cy="1771.4" r="4.7" fill="#adbfcc" stroke="#ffffff" stroke-width="1.2"/>
<circle cx="1209.7" cy="1757.5" r="4.7" fill="#adbfcc" stroke="#ffffff" stroke-width="1.2"/>
<circle cx="1199.4" cy="1758.4" r="4.7" fill="#adbfcc" stroke="#ffffff" stroke-width="1.2"/>
<circle cx="1188.8" cy="1757" r="4.7" fill="#adbfcc" stroke="#ffffff" stroke-width="1.2"/>
<circle cx="1178.5" cy="1984.5" r="4.7" fill="#adbfcc" stroke="#ffffff" stroke-width="1.2"/>
<circle cx="1189.6" cy="1984.5" r="4.7" fill="#adbfcc" stroke="#ffffff" stroke-width="1.2"/>
<circle cx="1200.2" cy="1984.5" r="4.7" fill="#adbfcc" stroke="#ffffff" stroke-width="1.2"/>
<circle cx="1298.2" cy="1909.6" r="4.7" fill="#adbfcc" stroke="#ffffff" stroke-width="1.2"/>
<circle cx="1122.8" cy="1777.3" r="3.8" fill="#587a93" stroke="#ffffff" stroke-width="1.2"/>
<circle cx="1115.3" cy="1782.9" r="3.8" fill="#adbfcc" stroke="#ffffff" stroke-width="1.2"/>
<circle cx="1110.8" cy="1791.2" r="3.8" fill="#adbfcc" stroke="#ffffff" stroke-width="1.2"/>
<circle cx="1105.2" cy="1799.3" r="3.8" fill="#adbfcc" stroke="#ffffff" stroke-width="1.2"/>
<circle cx="1097.2" cy="1805.1" r="3.8" fill="#adbfcc" stroke="#ffffff" stroke-width="1.2"/>
<circle cx="1079.6" cy="1864.2" r="3.8" fill="#587a93" stroke="#ffffff" stroke-width="1.2"/>
<circle cx="1079.1" cy="1873.4" r="3.8" fill="#adbfcc" stroke="#ffffff" stroke-width="1.2"/>
<circle cx="1083.8" cy="1915.7" r="3.8" fill="#adbfcc" stroke="#ffffff" stroke-width="1.2"/>
<circle cx="1130.3" cy="1973.6" r="3.8" fill="#adbfcc" stroke="#ffffff" stroke-width="1.2"/>
<circle cx="1138.7" cy="1976.1" r="3.8" fill="#adbfcc" stroke="#ffffff" stroke-width="1.2"/>
<circle cx="1276.5" cy="1951.9" r="3.8" fill="#adbfcc" stroke="#ffffff" stroke-width="1.2"/>
<circle cx="1298.2" cy="1918.5" r="3.8" fill="#adbfcc" stroke="#ffffff" stroke-width="1.2"/>
<circle cx="1301" cy="1821" r="3.8" fill="#adbfcc" stroke="#ffffff" stroke-width="1.2"/>
<circle cx="1260.6" cy="1775.1" r="3.8" fill="#adbfcc" stroke="#ffffff" stroke-width="1.2"/>
<circle cx="1130.3" cy="1774.2" r="3.3" fill="#adbfcc" stroke="#ffffff" stroke-width="1.2"/>
<circle cx="1085.2" cy="1924" r="3.3" fill="#adbfcc" stroke="#ffffff" stroke-width="1.2"/>
<circle cx="1088" cy="1931" r="3.3" fill="#587a93" stroke="#ffffff" stroke-width="1.2"/>
<circle cx="1093.5" cy="1935.2" r="3.3" fill="#adbfcc" stroke="#ffffff" stroke-width="1.2"/>
<circle cx="1097.7" cy="1942.1" r="3.3" fill="#adbfcc" stroke="#ffffff" stroke-width="1.2"/>
<circle cx="1099.7" cy="1949.1" r="3.3" fill="#587a93" stroke="#ffffff" stroke-width="1.2"/>
<circle cx="1105.2" cy="1955.5" r="3.3" fill="#adbfcc" stroke="#ffffff" stroke-width="1.2"/>
<circle cx="1112.2" cy="1958.3" r="3.3" fill="#adbfcc" stroke="#ffffff" stroke-width="1.2"/>
<circle cx="1119.2" cy="1961.6" r="3.3" fill="#adbfcc" stroke="#ffffff" stroke-width="1.2"/>
<circle cx="1122.8" cy="1969.4" r="3.3" fill="#adbfcc" stroke="#ffffff" stroke-width="1.2"/>
<circle cx="1297.4" cy="1926" r="3.3" fill="#adbfcc" stroke="#ffffff" stroke-width="1.2"/>
<circle cx="1295.4" cy="1811.3" r="3.3" fill="#adbfcc" stroke="#ffffff" stroke-width="1.2"/>
<circle cx="1294.6" cy="1801.5" r="3.3" fill="#adbfcc" stroke="#ffffff" stroke-width="1.2"/>
<circle cx="1305.2" cy="1840.5" r="3.3" fill="#adbfcc" stroke="#ffffff" stroke-width="1.2"/>
<circle cx="1253.7" cy="1772.3" r="3.3" fill="#587a93" stroke="#ffffff" stroke-width="1.2"/>
<circle cx="1281.5" cy="1948.3" r="2.7" fill="#adbfcc" stroke="#ffffff" stroke-width="1.2"/>
<circle cx="1285.7" cy="1941.6" r="2.7" fill="#adbfcc" stroke="#ffffff" stroke-width="1.2"/>
<circle cx="1291.8" cy="1938" r="2.7" fill="#adbfcc" stroke="#ffffff" stroke-width="1.2"/>
<circle cx="1276.8" cy="1958.3" r="2.7" fill="#587a93" stroke="#ffffff" stroke-width="1.2"/>
<circle cx="1289.9" cy="1789" r="2.7" fill="#adbfcc" stroke="#ffffff" stroke-width="1.2"/>
<circle cx="1282.3" cy="1783.4" r="2.7" fill="#adbfcc" stroke="#ffffff" stroke-width="1.2"/>
<circle cx="1270.4" cy="1784.8" r="2.7" fill="#587a93" stroke="#ffffff" stroke-width="1.2"/>
<circle cx="1257.1" cy="1941.1" r="6.1" fill="#adbfcc" stroke="#ffffff" stroke-width="1.2"/>
<circle cx="1167.5" cy="1984.5" r="5.6" fill="#adbfcc" stroke="#ffffff" stroke-width="1.2"/>
<circle cx="1162.6" cy="1760.5" r="5.4" fill="#adbfcc" stroke="#ffffff" stroke-width="1.2"/>
<circle cx="1155.6" cy="1982.4" r="4.4" fill="#adbfcc" stroke="#ffffff" stroke-width="1.2"/>
<circle cx="1143.7" cy="1766.1" r="4.3" fill="#adbfcc" stroke="#ffffff" stroke-width="1.2"/>
<circle cx="1287.2" cy="1804.6" r="4.2" fill="#adbfcc" stroke="#ffffff" stroke-width="1.2"/>
<circle cx="1278.1" cy="1831.2" r="3.9" fill="#adbfcc" stroke="#ffffff" stroke-width="1.2"/>
<circle cx="1292.8" cy="1890.7" r="3.9" fill="#adbfcc" stroke="#ffffff" stroke-width="1.2"/>
<circle cx="1080" cy="1841" r="3.9" fill="#587a93" stroke="#ffffff" stroke-width="1.2"/>
<circle cx="1301.9" cy="1829.1" r="3.8" fill="#adbfcc" stroke="#ffffff" stroke-width="1.2"/>
<circle cx="1208.8" cy="1988" r="3.8" fill="#adbfcc" stroke="#ffffff" stroke-width="1.2"/>
<circle cx="1293.5" cy="1824.2" r="3.5" fill="#adbfcc" stroke="#ffffff" stroke-width="1.2"/>
<circle cx="1112.9" cy="1799.7" r="3.5" fill="#adbfcc" stroke="#ffffff" stroke-width="1.2"/>
<circle cx="1183.6" cy="1977.5" r="3.4" fill="#adbfcc" stroke="#ffffff" stroke-width="1.2"/>
<circle cx="1115" cy="1925" r="3.4" fill="#adbfcc" stroke="#ffffff" stroke-width="1.2"/>
<circle cx="1152.8" cy="1965.6" r="3.4" fill="#adbfcc" stroke="#ffffff" stroke-width="1.2"/>
<circle cx="1136" cy="1768.9" r="3.4" fill="#adbfcc" stroke="#ffffff" stroke-width="1.2"/>
<circle cx="1293.5" cy="1932" r="3.2" fill="#adbfcc" stroke="#ffffff" stroke-width="1.2"/>
<circle cx="1285.8" cy="1935.5" r="3" fill="#adbfcc" stroke="#ffffff" stroke-width="1.2"/>
<circle cx="1103.8" cy="1832.6" r="3" fill="#adbfcc" stroke="#ffffff" stroke-width="1.2"/>
<circle cx="1100.3" cy="1935.5" r="3" fill="#adbfcc" stroke="#ffffff" stroke-width="1.2"/>
<circle cx="1266.2" cy="1780.1" r="2.9" fill="#adbfcc" stroke="#ffffff" stroke-width="1.2"/>
<circle cx="1152.1" cy="1761.2" r="2.9" fill="#adbfcc" stroke="#ffffff" stroke-width="1.2"/>
<circle cx="1210.9" cy="1969.8" r="2.9" fill="#adbfcc" stroke="#ffffff" stroke-width="1.2"/>
<circle cx="1077.9" cy="1897" r="2.9" fill="#adbfcc" stroke="#ffffff" stroke-width="1.2"/>
<circle cx="1075.8" cy="1857.8" r="2.8" fill="#adbfcc" stroke="#ffffff" stroke-width="1.2"/>
<circle cx="1205.3" cy="1764" r="2.8" fill="#adbfcc" stroke="#ffffff" stroke-width="1.2"/>
<circle cx="1217.9" cy="1757" r="2.7" fill="#adbfcc" stroke="#ffffff" stroke-width="1.2"/>
<circle cx="1229.8" cy="1759.8" r="2.7" fill="#adbfcc" stroke="#ffffff" stroke-width="1.2"/>
<circle cx="1309.6" cy="1890.7" r="2.7" fill="#adbfcc" stroke="#ffffff" stroke-width="1.2"/>
<circle cx="1215.8" cy="1987.3" r="2.7" fill="#adbfcc" stroke="#ffffff" stroke-width="1.2"/>
<circle cx="1194.8" cy="1990.1" r="2.7" fill="#adbfcc" stroke="#ffffff" stroke-width="1.2"/>
<circle cx="1305.4" cy="1906.8" r="2.7" fill="#adbfcc" stroke="#ffffff" stroke-width="1.2"/>
<circle cx="1093.3" cy="1883.7" r="2.6" fill="#adbfcc" stroke="#ffffff" stroke-width="1.2"/>
<circle cx="1294.9" cy="1817.9" r="2.6" fill="#adbfcc" stroke="#ffffff" stroke-width="1.2"/>
<circle cx="1242.4" cy="1778.7" r="2.5" fill="#adbfcc" stroke="#ffffff" stroke-width="1.2"/>
<circle cx="1241.7" cy="1764" r="2.5" fill="#adbfcc" stroke="#ffffff" stroke-width="1.2"/>
<circle cx="1074.4" cy="1868.3" r="2.5" fill="#adbfcc" stroke="#ffffff" stroke-width="1.2"/>
<circle cx="1172.4" cy="1778.7" r="2.5" fill="#adbfcc" stroke="#ffffff" stroke-width="1.2"/>
<circle cx="1184.3" cy="1990.1" r="2.5" fill="#adbfcc" stroke="#ffffff" stroke-width="1.2"/>
<circle cx="1097.5" cy="1824.9" r="2.5" fill="#adbfcc" stroke="#ffffff" stroke-width="1.2"/>
<circle cx="1091.9" cy="1892.8" r="2.5" fill="#adbfcc" stroke="#ffffff" stroke-width="1.2"/>
<circle cx="1169.6" cy="1756.3" r="2.4" fill="#adbfcc" stroke="#ffffff" stroke-width="1.2"/>
<circle cx="1260.6" cy="1799" r="2.4" fill="#adbfcc" stroke="#ffffff" stroke-width="1.2"/>
<circle cx="1074.4" cy="1878.1" r="2.4" fill="#adbfcc" stroke="#ffffff" stroke-width="1.2"/>
<circle cx="1120.6" cy="1955.8" r="2.4" fill="#adbfcc" stroke="#ffffff" stroke-width="1.2"/>
<circle cx="1133.2" cy="1779.4" r="2.3" fill="#adbfcc" stroke="#ffffff" stroke-width="1.2"/>
<circle cx="1104.5" cy="1792.7" r="2.3" fill="#adbfcc" stroke="#ffffff" stroke-width="1.2"/>
<circle cx="1292.8" cy="1849.4" r="2.2" fill="#adbfcc" stroke="#ffffff" stroke-width="1.2"/>
<circle cx="1083.5" cy="1826.3" r="2.2" fill="#adbfcc" stroke="#ffffff" stroke-width="1.2"/>
<circle cx="1217.9" cy="1974.7" r="2.2" fill="#adbfcc" stroke="#ffffff" stroke-width="1.2"/>
<circle cx="1305.4" cy="1834.7" r="2.2" fill="#adbfcc" stroke="#ffffff" stroke-width="1.2"/>
<circle cx="1304" cy="1913.8" r="2.1" fill="#adbfcc" stroke="#ffffff" stroke-width="1.2"/>
<circle cx="1182.2" cy="1754.2" r="2.1" fill="#adbfcc" stroke="#ffffff" stroke-width="1.2"/>
<circle cx="1143" cy="1785.7" r="2.1" fill="#adbfcc" stroke="#ffffff" stroke-width="1.2"/>
<circle cx="1076.5" cy="1847.3" r="2.1" fill="#adbfcc" stroke="#ffffff" stroke-width="1.2"/>
<circle cx="1098.9" cy="1799" r="2.1" fill="#587a93" stroke="#ffffff" stroke-width="1.2"/>
<circle cx="1203.2" cy="1977.5" r="2.1" fill="#adbfcc" stroke="#ffffff" stroke-width="1.2"/>
<circle cx="1311" cy="1876" r="2.1" fill="#adbfcc" stroke="#ffffff" stroke-width="1.2"/>
<circle cx="1080" cy="1834.7" r="2.1" fill="#adbfcc" stroke="#ffffff" stroke-width="1.2"/>
<circle cx="1237.5" cy="1772.4" r="2" fill="#adbfcc" stroke="#ffffff" stroke-width="1.2"/>
<circle cx="1291.4" cy="1912.4" r="2" fill="#adbfcc" stroke="#ffffff" stroke-width="1.2"/>
<circle cx="1098.2" cy="1906.1" r="2" fill="#adbfcc" stroke="#ffffff" stroke-width="1.2"/>
<circle cx="1271.1" cy="1810.9" r="2" fill="#adbfcc" stroke="#ffffff" stroke-width="1.2"/>
<circle cx="1143.7" cy="1980.3" r="2" fill="#adbfcc" stroke="#ffffff" stroke-width="1.2"/>
<circle cx="1129.7" cy="1942.5" r="2" fill="#adbfcc" stroke="#ffffff" stroke-width="1.2"/>
<circle cx="1273.2" cy="1927.1" r="2" fill="#adbfcc" stroke="#ffffff" stroke-width="1.2"/>
<circle cx="1148.6" cy="1982.4" r="2" fill="#adbfcc" stroke="#ffffff" stroke-width="1.2"/>
<circle cx="1095.4" cy="1859.9" r="2" fill="#adbfcc" stroke="#ffffff" stroke-width="1.2"/>
<circle cx="1210.2" cy="1775.2" r="1.9" fill="#adbfcc" stroke="#ffffff" stroke-width="1.2"/>
<circle cx="1311" cy="1857.8" r="1.9" fill="#adbfcc" stroke="#ffffff" stroke-width="1.2"/>
<circle cx="1081.4" cy="1830.5" r="1.9" fill="#adbfcc" stroke="#ffffff" stroke-width="1.2"/>
<circle cx="1150" cy="1778" r="1.9" fill="#adbfcc" stroke="#ffffff" stroke-width="1.2"/>
<circle cx="1178" cy="1965.6" r="1.9" fill="#adbfcc" stroke="#ffffff" stroke-width="1.2"/>
<circle cx="1578.2" cy="1869.8" r="81.5" fill="#934761" stroke="#ffffff" stroke-width="1.2"/>
<circle cx="1711.4" cy="1869.8" r="47.2" fill="#587a93" stroke="#ffffff" stroke-width="1.2"/>
<text x="1577" y="1876.7" font-size="28" text-anchor="middle" transform="translate(1577 1876.7) scale(1 1.04) translate(-1577 -1876.7)">2</text>
<text x="1602.5" y="1881" font-size="60" text-anchor="middle" font-weight="bold" style="stroke:none">*</text>
<circle cx="295.6" cy="2264.2" r="110.9" fill="#934761" stroke="#ffffff" stroke-width="1.2"/>
<text x="293.1" y="2263.4" font-size="28" text-anchor="middle" transform="translate(293.1 2263.4) scale(1 1.04) translate(-293.1 -2263.4)">2</text>
<text x="318.5" y="2268" font-size="60" text-anchor="middle" font-weight="bold" style="stroke:none">*</text>
<circle cx="725.2" cy="2264.2" r="110.5" fill="#934761" stroke="#ffffff" stroke-width="1.2"/>
<circle cx="851" cy="2264.2" r="14.4" fill="#adbfcc" stroke="#ffffff" stroke-width="1.2"/>
<text x="724.2" y="2273.4" font-size="28" text-anchor="middle" transform="translate(724.2 2273.4) scale(1 1.04) translate(-724.2 -2273.4)">2</text>
<circle cx="1162.5" cy="2261" r="95.9" fill="#934761" stroke="#ffffff" stroke-width="1.2"/>
<circle cx="1221.6" cy="2347.2" r="6.6" fill="#934761" stroke="#ffffff" stroke-width="1.2"/>
<circle cx="1289" cy="2260.5" r="29.7" fill="#adbfcc" stroke="#ffffff" stroke-width="1.2"/>
<circle cx="1269" cy="2215.4" r="18.6" fill="#adbfcc" stroke="#ffffff" stroke-width="1.2"/>
<circle cx="1305.2" cy="2214.9" r="16.7" fill="#adbfcc" stroke="#ffffff" stroke-width="1.2"/>
<circle cx="1331.1" cy="2239.1" r="16.7" fill="#adbfcc" stroke="#ffffff" stroke-width="1.2"/>
<circle cx="1330.2" cy="2268.3" r="11.6" fill="#adbfcc" stroke="#ffffff" stroke-width="1.2"/>
<circle cx="1318.3" cy="2287" r="9.4" fill="#adbfcc" stroke="#ffffff" stroke-width="1.2"/>
<circle cx="1269.5" cy="2307.3" r="20" fill="#adbfcc" stroke="#ffffff" stroke-width="1.2"/>
<circle cx="1302.4" cy="2296.8" r="8.9" fill="#adbfcc" stroke="#ffffff" stroke-width="1.2"/>
<circle cx="1296.8" cy="2315.1" r="7.5" fill="#adbfcc" stroke="#ffffff" stroke-width="1.2"/>
<circle cx="1288.5" cy="2326.8" r="6.1" fill="#adbfcc" stroke="#ffffff" stroke-width="1.2"/>
<circle cx="1330.8" cy="2211.8" r="6.1" fill="#adbfcc" stroke="#ffffff" stroke-width="1.2"/>
<circle cx="1246.7" cy="2201" r="6.6" fill="#adbfcc" stroke="#ffffff" stroke-width="1.2"/>
<circle cx="1259.2" cy="2192.3" r="6.1" fill="#adbfcc" stroke="#ffffff" stroke-width="1.2"/>
<circle cx="1272.3" cy="2190.9" r="6.1" fill="#adbfcc" stroke="#ffffff" stroke-width="1.2"/>
<circle cx="1284.3" cy="2195.4" r="5.5" fill="#adbfcc" stroke="#ffffff" stroke-width="1.2"/>
<circle cx="1296.8" cy="2192.6" r="5.5" fill="#587a93" stroke="#ffffff" stroke-width="1.2"/>
<circle cx="1316.4" cy="2301.2" r="3.8" fill="#adbfcc" stroke="#ffffff" stroke-width="1.2"/>
<circle cx="1310.8" cy="2308.7" r="3.3" fill="#adbfcc" stroke="#ffffff" stroke-width="1.2"/>
<circle cx="1308.8" cy="2316.5" r="3.3" fill="#587a93" stroke="#ffffff" stroke-width="1.2"/>
<circle cx="1255" cy="2330.2" r="4.7" fill="#adbfcc" stroke="#ffffff" stroke-width="1.2"/>
<circle cx="1247.6" cy="2321.8" r="4.1" fill="#adbfcc" stroke="#ffffff" stroke-width="1.2"/>
<circle cx="1239" cy="2326.8" r="4.1" fill="#adbfcc" stroke="#ffffff" stroke-width="1.2"/>
<circle cx="1237.5" cy="2194.8" r="3.3" fill="#adbfcc" stroke="#ffffff" stroke-width="1.2"/>
<circle cx="1243" cy="2190.4" r="2.7" fill="#adbfcc" stroke="#ffffff" stroke-width="1.2"/>
<circle cx="1249.4" cy="2188.4" r="2.2" fill="#adbfcc" stroke="#ffffff" stroke-width="1.2"/>
<text x="1159.4" y="2268.3" font-size="28" text-anchor="middle" transform="translate(1159.4 2268.3) scale(1 1.04) translate(-1159.4 -2268.3)">2</text>
<text x="1240.2" y="2363" font-size="28" text-anchor="middle" transform="translate(1240.2 2363) scale(1 1.04) translate(-1240.2 -2363)">3</text>
<text x="1263.5" y="2372.5" font-size="60" text-anchor="middle" font-weight="bold" style="stroke:none">*</text>
<circle cx="1590.1" cy="2276.7" r="90.2" fill="#adbfcc" stroke="#ffffff" stroke-width="1.2"/>
<circle cx="1722.4" cy="2276.7" r="39.5" fill="#adbfcc" stroke="#ffffff" stroke-width="1.2"/>
<circle cx="1694" cy="2343.5" r="31.7" fill="#adbfcc" stroke="#ffffff" stroke-width="1.2"/>
<circle cx="1689.8" cy="2223.2" r="21.4" fill="#adbfcc" stroke="#ffffff" stroke-width="1.2"/>
<circle cx="1733" cy="2215.4" r="20.8" fill="#adbfcc" stroke="#ffffff" stroke-width="1.2"/>
<circle cx="1766.4" cy="2237.7" r="17.8" fill="#adbfcc" stroke="#ffffff" stroke-width="1.2"/>
<circle cx="1781.1" cy="2271.7" r="17.8" fill="#adbfcc" stroke="#ffffff" stroke-width="1.2"/>
<circle cx="1771.9" cy="2306.8" r="17.2" fill="#adbfcc" stroke="#ffffff" stroke-width="1.2"/>
<circle cx="1744.9" cy="2329" r="16.4" fill="#adbfcc" stroke="#ffffff" stroke-width="1.2"/>
<circle cx="1738" cy="2359.7" r="14.4" fill="#adbfcc" stroke="#ffffff" stroke-width="1.2"/>
<circle cx="1662.8" cy="2200.7" r="13" fill="#adbfcc" stroke="#ffffff" stroke-width="1.2"/>
<circle cx="1687" cy="2188.1" r="13" fill="#adbfcc" stroke="#ffffff" stroke-width="1.2"/>
<text class="mono" x="162" y="1825.3" font-size="26.1" style="fill:#333;stroke:none" transform="translate(0 0) scale(1 0.89)" xml:space="preserve">1 CQVWDSSSDHPWVF J3</text>
<text class="mono" x="590.5" y="1825.3" font-size="26.1" style="fill:#333;stroke:none" transform="translate(0 0) scale(1 0.89)" xml:space="preserve">1 CQVWDSSSDHPWVF J3</text>
<text class="mono" x="1038.5" y="1825.3" font-size="26.1" style="fill:#333;stroke:none" transform="translate(0 0) scale(1 0.89)" xml:space="preserve">1 CQVWDSTSDPSYVF J1</text>
<text class="mono" x="1475" y="1804.9" font-size="26.1" style="fill:#333;stroke:none" transform="translate(0 0) scale(1 0.89)" xml:space="preserve">1 CQVWDSSSDHPWVF J3</text>
<text class="mono" x="1475" y="1840" font-size="26.1" style="fill:#333;stroke:none" transform="translate(0 0) scale(1 0.89)" xml:space="preserve">2 CQVWDSSDHPWVF  J3</text>
<text class="mono" x="162" y="2283.8" font-size="26.1" style="fill:#333;stroke:none" transform="translate(0 0) scale(1 0.89)" xml:space="preserve">1 CQVWDSSSDHPWVF J3</text>
<text class="mono" x="590.5" y="2258.9" font-size="26.1" style="fill:#333;stroke:none" transform="translate(0 0) scale(1 0.89)" xml:space="preserve">1 CQVWDSSSDQPWVF J3</text>
<text class="mono" x="590.5" y="2293.3" font-size="26.1" style="fill:#333;stroke:none" transform="translate(0 0) scale(1 0.89)" xml:space="preserve">2 CQVWDSSSDQPWVF J3</text>
<text class="mono" x="1038.5" y="2283.8" font-size="26.1" style="fill:#333;stroke:none" transform="translate(0 0) scale(1 0.89)" xml:space="preserve">1 CQVWDSSSDQPWVF J3</text>
<text class="mono" x="1475" y="2255.1" font-size="26.1" style="fill:#333;stroke:none" transform="translate(0 0) scale(1 0.89)" xml:space="preserve">1  CQVWDSSIDPNFVF J1</text>
<text class="mono" x="1475" y="2288.5" font-size="26.1" style="fill:#333;stroke:none" transform="translate(0 0) scale(1 0.89)" xml:space="preserve">2* CQVWDSSSDHPWVF J3</text>
<text class="mono" x="162" y="2717.4" font-size="26.1" style="fill:#333;stroke:none" transform="translate(0 0) scale(1 0.89)" xml:space="preserve">1  CQVWDSSSDHPWVF J3</text>
<text class="mono" x="162" y="2753.4" font-size="26.1" style="fill:#333;stroke:none" transform="translate(0 0) scale(1 0.89)" xml:space="preserve">2* CQVWDSSSDHPYVF J1</text>
<text class="mono" x="590.5" y="2718.3" font-size="26.1" style="fill:#333;stroke:none" transform="translate(0 0) scale(1 0.89)" xml:space="preserve">1 CQVWDSSSDQPWVF J3</text>
<text class="mono" x="590.5" y="2753.7" font-size="26.1" style="fill:#333;stroke:none" transform="translate(0 0) scale(1 0.89)" xml:space="preserve">2 CQVWDSGSDHPWVF J3</text>
<text class="mono" x="1038.5" y="2718.3" font-size="26.1" style="fill:#333;stroke:none" transform="translate(0 0) scale(1 0.89)" xml:space="preserve">1  CQVWDSSSDLPYVF J1</text>
<text class="mono" x="1038.5" y="2753.7" font-size="26.1" style="fill:#333;stroke:none" transform="translate(0 0) scale(1 0.89)" xml:space="preserve">2  CQVWDSSSDLPYVF J1</text>
<text class="mono" x="1038.5" y="2789" font-size="26.1" style="fill:#333;stroke:none" transform="translate(0 0) scale(1 0.89)" xml:space="preserve">3* CQVWDSSSDQPWVF J3</text>
<text class="mono" x="1475" y="2730.2" font-size="26.1" style="fill:#333;stroke:none" transform="translate(0 0) scale(1 0.89)" xml:space="preserve">1 CQVWDSGSDHPWVF J3</text>
</svg></body></html>
